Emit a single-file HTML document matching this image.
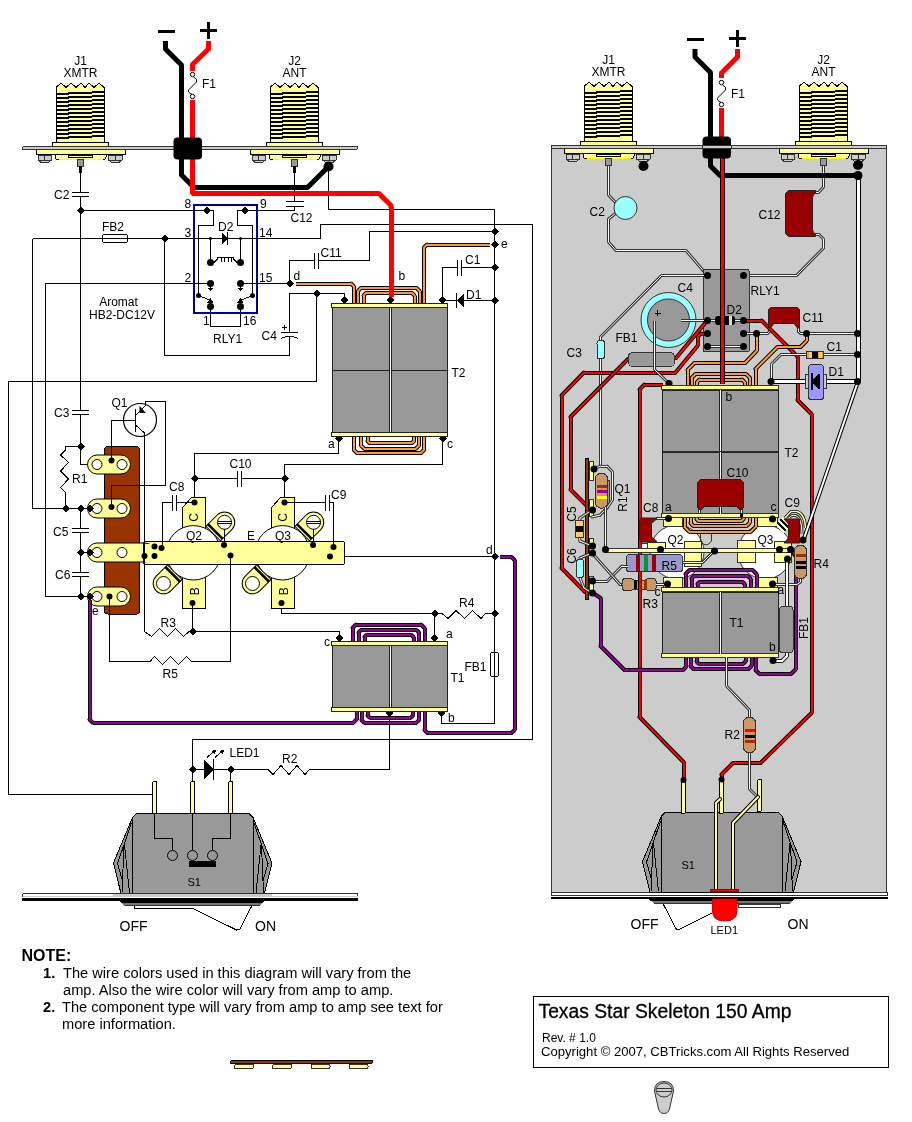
<!DOCTYPE html>
<html><head><meta charset="utf-8"><title>Texas Star Skeleton 150 Amp</title>
<style>
html,body{margin:0;padding:0;background:#fff}
svg{display:block;will-change:transform}
text{font-family:"Liberation Sans",sans-serif;fill:#000}
.w{fill:none;stroke:#000;stroke-width:1}
.g{fill:none;stroke:#333;stroke-width:1}
.k{fill:#000;stroke:none}
.t{fill:none;stroke:#000;stroke-width:2}
.yl{fill:none;stroke:#ffff00;stroke-width:1}
.bw{fill:none;stroke:#333;stroke-width:3}
.bi{fill:none;stroke:#fff;stroke-width:1}
circle,ellipse,.aa,.aa *{shape-rendering:geometricPrecision}
</style></head><body>
<svg width="912" height="1122" viewBox="0 0 912 1122" shape-rendering="crispEdges">
<rect width="912" height="1122" fill="#fff"/>
<g id="left">
<polyline class="w" points="80.5,172 80.5,192"/>
<line class="w" x1="72" y1="192.5" x2="89" y2="192.5"/>
<line class="w" x1="72" y1="196.5" x2="89" y2="196.5"/>
<polyline class="w" points="80.5,197 80.5,410"/>
<line class="w" x1="72" y1="410.5" x2="89" y2="410.5"/>
<line class="w" x1="72" y1="414.5" x2="89" y2="414.5"/>
<polyline class="w" points="80.5,415 80.5,464.5 88,464.5"/>
<polyline class="w" points="80.5,210.5 206,210.5"/>
<polyline class="w" points="32.5,238.5 320.5,238.5 320.5,224.5 532.5,224.5 532.5,739.5 192.5,739.5 192.5,782"/>
<polyline class="w" points="32.5,238.5 32.5,508.5 90,508.5"/>
<polyline class="w" points="164.5,238.5 164.5,355.5 289.5,355.5 289.5,337"/>
<polyline class="w" points="289.5,332 289.5,293.5 344.5,293.5 344.5,300"/>
<polyline class="w" points="316.5,293.5 316.5,381.5 8.5,381.5 8.5,794.5 153,794.5"/>
<polyline class="w" points="210.5,283.5 45.5,283.5 45.5,596.5 90,596.5"/>
<polyline class="w" points="80.5,508.5 80.5,528"/>
<line class="w" x1="72" y1="528.5" x2="89" y2="528.5"/>
<line class="w" x1="72" y1="532.5" x2="89" y2="532.5"/>
<polyline class="w" points="80.5,533 80.5,572"/>
<line class="w" x1="72" y1="572.5" x2="89" y2="572.5"/>
<line class="w" x1="72" y1="576.5" x2="89" y2="576.5"/>
<polyline class="w" points="80.5,577 80.5,596.5"/>
<polyline class="w" points="80.5,552.5 90,552.5"/>
<polyline class="w" points="240.5,283.5 289.5,283.5 289.5,260.5 314,260.5"/>
<line class="w" x1="314.5" y1="252.5" x2="314.5" y2="268.5"/>
<line class="w" x1="318.5" y1="252.5" x2="318.5" y2="268.5"/>
<polyline class="w" points="319,260.5 369.5,260.5 369.5,231.5 494.5,231.5"/>
<polyline class="w" points="328.5,167 328.5,209.5 494.5,209.5 494.5,723.5 441.5,723.5 441.5,712"/>
<polyline class="w" points="442.5,300 442.5,267.5 457,267.5"/>
<line class="w" x1="457.5" y1="259.5" x2="457.5" y2="275.5"/>
<line class="w" x1="461.5" y1="259.5" x2="461.5" y2="275.5"/>
<polyline class="w" points="462,267.5 494.5,267.5"/>
<polyline class="w" points="442.5,300.5 494.5,300.5"/>
<polygon class="k" points="456.5,300.5 463.5,293.5 463.5,307.5"/>
<line class="w" x1="456.5" y1="293" x2="456.5" y2="308"/>
<polyline class="w" points="294.5,172 294.5,201"/>
<line class="w" x1="285.5" y1="201.5" x2="303.5" y2="201.5"/>
<line class="w" x1="285.5" y1="206.5" x2="303.5" y2="206.5"/>
<polyline class="w" points="294.5,207 294.5,210.5 244.5,210.5"/>
<polyline class="w" points="210.5,306 210.5,326.5 240.5,326.5 240.5,306"/>
<polyline class="w" points="338.5,437 338.5,453.5 194.5,453.5 194.5,502.5"/>
<polyline class="w" points="194.5,478.5 237,478.5"/>
<line class="w" x1="237.5" y1="470.5" x2="237.5" y2="486.5"/>
<line class="w" x1="241.5" y1="470.5" x2="241.5" y2="486.5"/>
<polyline class="w" points="242,478.5 284.5,478.5"/>
<polyline class="w" points="442.5,437 442.5,464.5 284.5,464.5 284.5,502.5"/>
<polyline class="w" points="162.5,548 162.5,502.5 172,502.5"/>
<line class="w" x1="172.5" y1="494.5" x2="172.5" y2="510.5"/>
<line class="w" x1="176.5" y1="494.5" x2="176.5" y2="510.5"/>
<polyline class="w" points="80.5,446.5 65.5,446.5 65.5,450 60.5,455 68.5,462.5 60.5,471 68.5,479 60.5,487.5 65.5,492.5 65.5,508.5"/>
<polyline class="w" points="144.5,631.5 151.5,636.5 159.5,628.5 167.5,636.5 175.5,628.5 183.5,636.5 189,631.5 339.5,631.5 339.5,638"/>
<polyline class="w" points="281.5,603 281.5,613.5 442,613.5 448,618.5 456,610.5 464.5,618.5 472.5,610.5 481,618.5 485.5,613.5 494.5,613.5"/>
<polyline class="w" points="434.5,613.5 434.5,638"/>
<polyline class="w" points="150,661.5 154.5,656.5 162.5,664.5 170.5,656.5 178.5,664.5 186.5,656.5 191.5,661.5 230.5,661.5 230.5,555"/>
<polyline class="w" points="389.5,712 389.5,769.5 309.5,769.5 305,774.5 297,765.5 289,774.5 281,765.5 273,774.5 268,769.5 192.5,769.5"/>
<polyline class="w" points="230.5,769.5 230.5,782"/>
<polygon class="k" points="203.5,759 213.5,769.5 203.5,780"/>
<line class="w" x1="213.5" y1="759" x2="213.5" y2="780"/>
<polyline class="w" points="207,757.5 215,750.5"/>
<polygon class="k" points="216,749.5 211.5,751 215,754"/>
<polyline class="w" points="215,757.5 223,750.5"/>
<polygon class="k" points="224,749.5 219.5,751 223,754"/>
<polyline class="w" points="330,556.5 494.5,556.5"/>
<rect x="22.5" y="146.5" width="335" height="3" fill="#CCCCCC" stroke="#333" stroke-width="1" rx="1.5" />
<polygon fill="#FFFF99" stroke="#000" points="56,87.5 61,83 66,87.5 71,83 76,87.5 81,83 85,87.5 89,83 94,87.5 99,83 104.5,88 104.5,142 56,142"/>
<rect x="56.5" y="93" width="12" height="2" fill="#000" stroke="none" stroke-width="1" />
<rect x="68" y="92" width="24" height="2" fill="#000" stroke="none" stroke-width="1" />
<rect x="92" y="91" width="12" height="2" fill="#000" stroke="none" stroke-width="1" />
<rect x="56.5" y="97" width="12" height="2" fill="#000" stroke="none" stroke-width="1" />
<rect x="68" y="96" width="24" height="2" fill="#000" stroke="none" stroke-width="1" />
<rect x="92" y="95" width="12" height="2" fill="#000" stroke="none" stroke-width="1" />
<rect x="56.5" y="101" width="12" height="2" fill="#000" stroke="none" stroke-width="1" />
<rect x="68" y="100" width="24" height="2" fill="#000" stroke="none" stroke-width="1" />
<rect x="92" y="99" width="12" height="2" fill="#000" stroke="none" stroke-width="1" />
<rect x="56.5" y="105" width="12" height="2" fill="#000" stroke="none" stroke-width="1" />
<rect x="68" y="104" width="24" height="2" fill="#000" stroke="none" stroke-width="1" />
<rect x="92" y="103" width="12" height="2" fill="#000" stroke="none" stroke-width="1" />
<rect x="56.5" y="109" width="12" height="2" fill="#000" stroke="none" stroke-width="1" />
<rect x="68" y="108" width="24" height="2" fill="#000" stroke="none" stroke-width="1" />
<rect x="92" y="107" width="12" height="2" fill="#000" stroke="none" stroke-width="1" />
<rect x="56.5" y="113" width="12" height="2" fill="#000" stroke="none" stroke-width="1" />
<rect x="68" y="112" width="24" height="2" fill="#000" stroke="none" stroke-width="1" />
<rect x="92" y="111" width="12" height="2" fill="#000" stroke="none" stroke-width="1" />
<rect x="56.5" y="117" width="12" height="2" fill="#000" stroke="none" stroke-width="1" />
<rect x="68" y="116" width="24" height="2" fill="#000" stroke="none" stroke-width="1" />
<rect x="92" y="115" width="12" height="2" fill="#000" stroke="none" stroke-width="1" />
<rect x="56.5" y="121" width="12" height="2" fill="#000" stroke="none" stroke-width="1" />
<rect x="68" y="120" width="24" height="2" fill="#000" stroke="none" stroke-width="1" />
<rect x="92" y="119" width="12" height="2" fill="#000" stroke="none" stroke-width="1" />
<rect x="56.5" y="125" width="12" height="2" fill="#000" stroke="none" stroke-width="1" />
<rect x="68" y="124" width="24" height="2" fill="#000" stroke="none" stroke-width="1" />
<rect x="92" y="123" width="12" height="2" fill="#000" stroke="none" stroke-width="1" />
<rect x="56.5" y="129" width="12" height="2" fill="#000" stroke="none" stroke-width="1" />
<rect x="68" y="128" width="24" height="2" fill="#000" stroke="none" stroke-width="1" />
<rect x="92" y="127" width="12" height="2" fill="#000" stroke="none" stroke-width="1" />
<rect x="56.5" y="133" width="12" height="2" fill="#000" stroke="none" stroke-width="1" />
<rect x="68" y="132" width="24" height="2" fill="#000" stroke="none" stroke-width="1" />
<rect x="92" y="131" width="12" height="2" fill="#000" stroke="none" stroke-width="1" />
<rect x="56.5" y="137" width="12" height="2" fill="#000" stroke="none" stroke-width="1" />
<rect x="68" y="136" width="24" height="2" fill="#000" stroke="none" stroke-width="1" />
<rect x="92" y="135" width="12" height="2" fill="#000" stroke="none" stroke-width="1" />
<rect x="52" y="142.5" width="56" height="4" fill="#FFFF99" stroke="#000" stroke-width="1" />
<rect x="36" y="149.5" width="89" height="5" fill="#FFFF99" stroke="#000" stroke-width="1" />
<path d="M55 154.5V157Q55 159.5 58.5 159.5H102.5Q106 159.5 106 157V154.5Z" fill="#FFFF99" stroke="#000"/>
<line class="yl" x1="58.5" y1="159.5" x2="102.5" y2="159.5"/>
<rect x="68.5" y="155.5" width="24" height="2" fill="#FFFF99" stroke="#000" stroke-width="1" rx="1" />
<path d="M38 155.5H51.5V160L48.5 162.5H41L38 160Z" fill="#ccc" stroke="#333"/>
<line class="g" x1="44.75" y1="155.5" x2="44.75" y2="160"/>
<line class="g" x1="38" y1="160" x2="51.5" y2="160"/>
<path d="M108.5 155.5H122V160L119 162.5H111.5L108.5 160Z" fill="#ccc" stroke="#333"/>
<line class="g" x1="115.25" y1="155.5" x2="115.25" y2="160"/>
<line class="g" x1="108.5" y1="160" x2="122" y2="160"/>
<rect x="77.5" y="159" width="6" height="7" fill="#999999" stroke="#333" stroke-width="1" />
<rect x="79" y="166" width="3" height="7" fill="#000" stroke="none" stroke-width="1" />
<polygon fill="#FFFF99" stroke="#000" points="270,87.5 275,83 280,87.5 285,83 290,87.5 295,83 299,87.5 303,83 308,87.5 313,83 318.5,88 318.5,142 270,142"/>
<rect x="270.5" y="93" width="12" height="2" fill="#000" stroke="none" stroke-width="1" />
<rect x="282" y="92" width="24" height="2" fill="#000" stroke="none" stroke-width="1" />
<rect x="306" y="91" width="12" height="2" fill="#000" stroke="none" stroke-width="1" />
<rect x="270.5" y="97" width="12" height="2" fill="#000" stroke="none" stroke-width="1" />
<rect x="282" y="96" width="24" height="2" fill="#000" stroke="none" stroke-width="1" />
<rect x="306" y="95" width="12" height="2" fill="#000" stroke="none" stroke-width="1" />
<rect x="270.5" y="101" width="12" height="2" fill="#000" stroke="none" stroke-width="1" />
<rect x="282" y="100" width="24" height="2" fill="#000" stroke="none" stroke-width="1" />
<rect x="306" y="99" width="12" height="2" fill="#000" stroke="none" stroke-width="1" />
<rect x="270.5" y="105" width="12" height="2" fill="#000" stroke="none" stroke-width="1" />
<rect x="282" y="104" width="24" height="2" fill="#000" stroke="none" stroke-width="1" />
<rect x="306" y="103" width="12" height="2" fill="#000" stroke="none" stroke-width="1" />
<rect x="270.5" y="109" width="12" height="2" fill="#000" stroke="none" stroke-width="1" />
<rect x="282" y="108" width="24" height="2" fill="#000" stroke="none" stroke-width="1" />
<rect x="306" y="107" width="12" height="2" fill="#000" stroke="none" stroke-width="1" />
<rect x="270.5" y="113" width="12" height="2" fill="#000" stroke="none" stroke-width="1" />
<rect x="282" y="112" width="24" height="2" fill="#000" stroke="none" stroke-width="1" />
<rect x="306" y="111" width="12" height="2" fill="#000" stroke="none" stroke-width="1" />
<rect x="270.5" y="117" width="12" height="2" fill="#000" stroke="none" stroke-width="1" />
<rect x="282" y="116" width="24" height="2" fill="#000" stroke="none" stroke-width="1" />
<rect x="306" y="115" width="12" height="2" fill="#000" stroke="none" stroke-width="1" />
<rect x="270.5" y="121" width="12" height="2" fill="#000" stroke="none" stroke-width="1" />
<rect x="282" y="120" width="24" height="2" fill="#000" stroke="none" stroke-width="1" />
<rect x="306" y="119" width="12" height="2" fill="#000" stroke="none" stroke-width="1" />
<rect x="270.5" y="125" width="12" height="2" fill="#000" stroke="none" stroke-width="1" />
<rect x="282" y="124" width="24" height="2" fill="#000" stroke="none" stroke-width="1" />
<rect x="306" y="123" width="12" height="2" fill="#000" stroke="none" stroke-width="1" />
<rect x="270.5" y="129" width="12" height="2" fill="#000" stroke="none" stroke-width="1" />
<rect x="282" y="128" width="24" height="2" fill="#000" stroke="none" stroke-width="1" />
<rect x="306" y="127" width="12" height="2" fill="#000" stroke="none" stroke-width="1" />
<rect x="270.5" y="133" width="12" height="2" fill="#000" stroke="none" stroke-width="1" />
<rect x="282" y="132" width="24" height="2" fill="#000" stroke="none" stroke-width="1" />
<rect x="306" y="131" width="12" height="2" fill="#000" stroke="none" stroke-width="1" />
<rect x="270.5" y="137" width="12" height="2" fill="#000" stroke="none" stroke-width="1" />
<rect x="282" y="136" width="24" height="2" fill="#000" stroke="none" stroke-width="1" />
<rect x="306" y="135" width="12" height="2" fill="#000" stroke="none" stroke-width="1" />
<rect x="266" y="142.5" width="56" height="4" fill="#FFFF99" stroke="#000" stroke-width="1" />
<rect x="250" y="149.5" width="89" height="5" fill="#FFFF99" stroke="#000" stroke-width="1" />
<path d="M269 154.5V157Q269 159.5 272.5 159.5H316.5Q320 159.5 320 157V154.5Z" fill="#FFFF99" stroke="#000"/>
<line class="yl" x1="272.5" y1="159.5" x2="316.5" y2="159.5"/>
<rect x="282.5" y="155.5" width="24" height="2" fill="#FFFF99" stroke="#000" stroke-width="1" rx="1" />
<path d="M252 155.5H265.5V160L262.5 162.5H255L252 160Z" fill="#ccc" stroke="#333"/>
<line class="g" x1="258.75" y1="155.5" x2="258.75" y2="160"/>
<line class="g" x1="252" y1="160" x2="265.5" y2="160"/>
<path d="M322.5 155.5H336V160L333 162.5H325.5L322.5 160Z" fill="#ccc" stroke="#333"/>
<line class="g" x1="329.25" y1="155.5" x2="329.25" y2="160"/>
<line class="g" x1="322.5" y1="160" x2="336" y2="160"/>
<rect x="291.5" y="159" width="6" height="7" fill="#999999" stroke="#333" stroke-width="1" />
<rect x="293" y="166" width="3" height="7" fill="#000" stroke="none" stroke-width="1" />
<rect x="22.5" y="146.5" width="335" height="3" fill="#CCCCCC" stroke="#333" stroke-width="1" rx="1.5" />
<rect x="102.5" y="234.5" width="25" height="8" fill="none" stroke="#000" stroke-width="1" rx="2" />
<rect x="490.5" y="652.5" width="8" height="24" fill="none" stroke="#000" stroke-width="1" rx="2" />
<rect x="194" y="205" width="63" height="108" fill="none" stroke="#000099" stroke-width="2"/>
<polyline class="w" points="206,210.5 213.5,210.5 213.5,225.5 198.5,225.5 198.5,295"/>
<polyline class="w" points="244.5,210.5 237.5,210.5 237.5,225.5 252.5,225.5 252.5,295"/>
<polyline class="w" points="210.5,238.5 210.5,262.5"/>
<polyline class="w" points="240.5,238.5 240.5,262.5"/>
<polygon class="k" points="221.5,232.5 227.5,238.5 221.5,244.5"/>
<line class="w" x1="227.5" y1="232" x2="227.5" y2="245"/>
<circle class="k" cx="210.5" cy="238.5" r="1.5"/>
<circle class="k" cx="240.5" cy="238.5" r="1.5"/>
<path class="w" d="M210.500 262.500H214L217.500 259V257.500H233.500V259L237 262.500H240.500M221 257.500V261.500M224.500 257.500V261.500M228 257.500V261.500M231.500 257.500V261.500"/>
<circle class="k" cx="210.5" cy="262.5" r="3.5"/>
<circle class="k" cx="240.5" cy="262.5" r="3.5"/>
<circle class="k" cx="210.5" cy="283.5" r="3.5"/>
<circle class="k" cx="240.5" cy="283.5" r="3.5"/>
<polyline class="w" points="210.5,286 210.5,290"/>
<polygon class="k" points="207.5,288 213.5,288 210.5,291.500"/>
<polyline class="w" points="240.5,286 240.5,290"/>
<polygon class="k" points="237.5,288 243.5,288 240.5,291.500"/>
<circle class="k" cx="198.5" cy="295.5" r="2.5"/>
<circle class="k" cx="252.5" cy="295.5" r="2.5"/>
<polyline class="w" points="198.5,295.5 212,301"/>
<polyline class="w" points="252.5,295.5 239,301"/>
<polygon class="k" points="210.500,298 213.500,302.500 207.500,302.500"/>
<polygon class="k" points="240.500,298 243.500,302.500 237.500,302.500"/>
<circle class="k" cx="210.5" cy="306.5" r="3.5"/>
<circle class="k" cx="240.5" cy="306.5" r="3.5"/>
<polygon class="k" points="202.5,210.5 206.5,206.5 210.5,210.5 206.5,214.5"/>
<polygon class="k" points="240.5,210.5 244.5,206.5 248.5,210.5 244.5,214.5"/>
<line class="w" x1="281" y1="332.5" x2="298" y2="332.5"/>
<path class="w" d="M281 338.5Q289.5 334.5 298 338.5"/>
<polyline class="w" points="282,327.5 287,327.5"/>
<polyline class="w" points="284.5,325 284.5,330"/>
<path d="M104.5 449.5Q104.5 446.5 107.5 446.5H136.5Q139.5 446.5 139.5 449.5V611Q139.5 614 136.5 614H107.5Q104.5 614 104.5 611Z" fill="#993300" stroke="#000"/>
<circle cx="140" cy="420" r="16.500" fill="#fff" stroke="#000" stroke-width="1.2"/>
<polyline class="w" points="124,420.5 135.5,420.5"/>
<line x1="135.500" y1="409" x2="135.500" y2="432" stroke="#000" stroke-width="1"/>
<polyline class="w" points="111.5,460 111.5,420.5 124,420.5"/>
<polyline class="w" points="135.5,415.5 145.5,405.5 145.5,401.5 165.5,401.5 165.5,485.5 111.5,485.5 111.5,507"/>
<polygon class="k aa" points="139.500,406 139.500,413 146,413"/>
<polyline class="w" points="135.5,425 144.5,433 144.5,631.5"/>
<polygon fill="#FFFF99" stroke="#000" points="182.5,535 182.5,507.5 191.5,497.5 205.5,497.5 205.5,535"/>
<polygon fill="#FFFF99" stroke="#000" points="182.5,570 182.5,608.5 205.5,608.5 205.5,570"/>
<g transform="translate(224.5 522.3) rotate(45)" class="aa">
<path d="M-10.3 16V0A10.3 10.3 0 0 1 10.3 0V16Z" fill="#FFFF99" stroke="#000"/>
<line x1="-10.5" y1="13" x2="10.5" y2="13" stroke="#000" stroke-width="2.6"/>
</g>
<circle cx="224.5" cy="522.3" r="7" fill="#fff" stroke="#000"/>
<g transform="translate(163.5 583.5) rotate(225)" class="aa">
<path d="M-10.3 16V0A10.3 10.3 0 0 1 10.3 0V16Z" fill="#FFFF99" stroke="#000"/>
<line x1="-10.5" y1="13" x2="10.5" y2="13" stroke="#000" stroke-width="2.6"/>
</g>
<circle cx="163.5" cy="583.5" r="7" fill="#fff" stroke="#000"/>
<circle cx="193.5" cy="552.8" r="27.2" fill="#fff" stroke="#000"/>
<line class="w" x1="217.5" y1="521.3" x2="231.5" y2="521.3"/>
<line class="w" x1="217.5" y1="523.3" x2="231.5" y2="523.3"/>
<polyline class="w" points="224.5,529.3 224.5,545"/>
<text transform="translate(198 517.3) rotate(-90)" font-size="12" text-anchor="middle">C</text>
<text transform="translate(198.5 591.2) rotate(-90)" font-size="12" text-anchor="middle">B</text>
<polygon fill="#FFFF99" stroke="#000" points="271.5,535 271.5,507.5 280.5,497.5 294.5,497.5 294.5,535"/>
<polygon fill="#FFFF99" stroke="#000" points="271.5,570 271.5,608.5 294.5,608.5 294.5,570"/>
<g transform="translate(313.5 522.3) rotate(45)" class="aa">
<path d="M-10.3 16V0A10.3 10.3 0 0 1 10.3 0V16Z" fill="#FFFF99" stroke="#000"/>
<line x1="-10.5" y1="13" x2="10.5" y2="13" stroke="#000" stroke-width="2.6"/>
</g>
<circle cx="313.5" cy="522.3" r="7" fill="#fff" stroke="#000"/>
<g transform="translate(252.5 583.5) rotate(225)" class="aa">
<path d="M-10.3 16V0A10.3 10.3 0 0 1 10.3 0V16Z" fill="#FFFF99" stroke="#000"/>
<line x1="-10.5" y1="13" x2="10.5" y2="13" stroke="#000" stroke-width="2.6"/>
</g>
<circle cx="252.5" cy="583.5" r="7" fill="#fff" stroke="#000"/>
<circle cx="282.5" cy="552.8" r="27.2" fill="#fff" stroke="#000"/>
<line class="w" x1="306.5" y1="521.3" x2="320.5" y2="521.3"/>
<line class="w" x1="306.5" y1="523.3" x2="320.5" y2="523.3"/>
<polyline class="w" points="313.5,529.3 313.5,545"/>
<text transform="translate(287 517.3) rotate(-90)" font-size="12" text-anchor="middle">C</text>
<text transform="translate(287.5 591.2) rotate(-90)" font-size="12" text-anchor="middle">B</text>
<rect x="143.5" y="541.5" width="201" height="23" fill="#FFFF99" stroke="#000" stroke-width="1" rx="2" />
<rect x="87.5" y="455" width="43" height="19" rx="9.5" fill="#FFFF99" stroke="#000" class="aa"/>
<circle cx="97" cy="464.5" r="5" fill="#fff" stroke="#000"/>
<circle cx="122" cy="464.5" r="5" fill="#fff" stroke="#000"/>
<rect x="87.5" y="499" width="43" height="19" rx="9.5" fill="#FFFF99" stroke="#000" class="aa"/>
<circle cx="97" cy="508.5" r="5" fill="#fff" stroke="#000"/>
<circle cx="122" cy="508.5" r="5" fill="#fff" stroke="#000"/>
<rect x="87.5" y="543" width="67" height="19" rx="9.5" fill="#FFFF99" stroke="#000" class="aa"/>
<circle cx="97" cy="552.5" r="5" fill="#fff" stroke="#000"/>
<circle cx="122" cy="552.5" r="5" fill="#fff" stroke="#000"/>
<rect x="87.5" y="587" width="43" height="19" rx="9.5" fill="#FFFF99" stroke="#000" class="aa"/>
<circle cx="97" cy="596.5" r="5" fill="#fff" stroke="#000"/>
<circle cx="122" cy="596.5" r="5" fill="#fff" stroke="#000"/>
<rect x="144.5" y="543.5" width="12" height="18" fill="#FFFF99" stroke="none" stroke-width="1" />
<line class="w" x1="143.5" y1="543" x2="143.5" y2="562"/>
<polyline class="w" points="109.5,596.5 109.5,661.5 150,661.5"/>
<polyline class="w" points="111.5,447 111.5,460"/>
<polyline class="w" points="111.5,486 111.5,507"/>
<polyline class="w" points="162.5,540 162.5,548"/>
<circle class="k" cx="111.5" cy="460.5" r="3"/>
<circle class="k" cx="111.5" cy="507" r="3"/>
<circle class="k" cx="109.5" cy="596.5" r="3"/>
<polyline class="w" points="144.5,540 144.5,631.5"/>
<polyline class="w" points="230.5,555 230.5,661.5"/>
<text x="186" y="540" font-size="12" text-anchor="start" >Q2</text>
<text x="275" y="540" font-size="12" text-anchor="start" >Q3</text>
<text x="247" y="540" font-size="12" text-anchor="start" >E</text>
<polyline class="w" points="177,502.5 194.5,502.5"/>
<polyline class="w" points="284.5,502.5 325,502.5"/>
<line class="w" x1="325.5" y1="494.5" x2="325.5" y2="510.5"/>
<line class="w" x1="329.5" y1="494.5" x2="329.5" y2="510.5"/>
<polyline class="w" points="330,502.5 333.5,502.5 333.5,547"/>
<circle class="k" cx="194.5" cy="502.5" r="3"/>
<circle class="k" cx="284.5" cy="502.5" r="3"/>
<circle class="k" cx="192.5" cy="603" r="3"/>
<circle class="k" cx="281.5" cy="603" r="3"/>
<circle class="k" cx="154.5" cy="546.5" r="3"/>
<circle class="k" cx="161.5" cy="548" r="3"/>
<circle class="k" cx="144.5" cy="556" r="3"/>
<circle class="k" cx="154.5" cy="556" r="3"/>
<circle class="k" cx="224" cy="545" r="3"/>
<circle class="k" cx="230.5" cy="555.5" r="3"/>
<circle class="k" cx="313" cy="545" r="3"/>
<circle class="k" cx="333.5" cy="547" r="3"/>
<circle class="k" cx="330" cy="556.5" r="3"/>
<polyline fill="none" stroke="#000" stroke-width="4" points="295.5,283.5 351,283.5"/>
<polyline fill="none" stroke="#000" stroke-width="4" points="353.5,286 353.5,303"/>
<line class="aa" stroke-linecap="round" stroke="#000" stroke-width="4" x1="351" y1="283.5" x2="353.5" y2="286"/>
<polyline fill="none" stroke="#FF9933" stroke-width="2" points="295.5,283.5 351,283.5"/>
<polyline fill="none" stroke="#FF9933" stroke-width="2" points="353.5,286 353.5,303"/>
<line class="aa" stroke-linecap="round" stroke="#FF9933" stroke-width="2" x1="351" y1="283.5" x2="353.5" y2="286"/>
<polyline fill="none" stroke="#000" stroke-width="4" points="358,303 358,291"/>
<polyline fill="none" stroke="#000" stroke-width="4" points="361,288 416.5,288"/>
<polyline fill="none" stroke="#000" stroke-width="4" points="419.5,291 419.5,303"/>
<line class="aa" stroke-linecap="round" stroke="#000" stroke-width="4" x1="358" y1="291" x2="361" y2="288"/>
<line class="aa" stroke-linecap="round" stroke="#000" stroke-width="4" x1="416.5" y1="288" x2="419.5" y2="291"/>
<polyline fill="none" stroke="#FF9933" stroke-width="2" points="358,303 358,291"/>
<polyline fill="none" stroke="#FF9933" stroke-width="2" points="361,288 416.5,288"/>
<polyline fill="none" stroke="#FF9933" stroke-width="2" points="419.5,291 419.5,303"/>
<line class="aa" stroke-linecap="round" stroke="#FF9933" stroke-width="2" x1="358" y1="291" x2="361" y2="288"/>
<line class="aa" stroke-linecap="round" stroke="#FF9933" stroke-width="2" x1="416.5" y1="288" x2="419.5" y2="291"/>
<polyline fill="none" stroke="#000" stroke-width="4" points="363.5,303 363.5,295.5"/>
<polyline fill="none" stroke="#000" stroke-width="4" points="366,293 412,293"/>
<polyline fill="none" stroke="#000" stroke-width="4" points="414.5,295.5 414.5,303"/>
<line class="aa" stroke-linecap="round" stroke="#000" stroke-width="4" x1="363.5" y1="295.5" x2="366" y2="293"/>
<line class="aa" stroke-linecap="round" stroke="#000" stroke-width="4" x1="412" y1="293" x2="414.5" y2="295.5"/>
<polyline fill="none" stroke="#FF9933" stroke-width="2" points="363.5,303 363.5,295.5"/>
<polyline fill="none" stroke="#FF9933" stroke-width="2" points="366,293 412,293"/>
<polyline fill="none" stroke="#FF9933" stroke-width="2" points="414.5,295.5 414.5,303"/>
<line class="aa" stroke-linecap="round" stroke="#FF9933" stroke-width="2" x1="363.5" y1="295.5" x2="366" y2="293"/>
<line class="aa" stroke-linecap="round" stroke="#FF9933" stroke-width="2" x1="412" y1="293" x2="414.5" y2="295.5"/>
<polyline fill="none" stroke="#000" stroke-width="4" points="490,244.5 427,244.5"/>
<polyline fill="none" stroke="#000" stroke-width="4" points="424,247.5 424,303"/>
<line class="aa" stroke-linecap="round" stroke="#000" stroke-width="4" x1="427" y1="244.5" x2="424" y2="247.5"/>
<polyline fill="none" stroke="#FF9933" stroke-width="2" points="490,244.5 427,244.5"/>
<polyline fill="none" stroke="#FF9933" stroke-width="2" points="424,247.5 424,303"/>
<line class="aa" stroke-linecap="round" stroke="#FF9933" stroke-width="2" x1="427" y1="244.5" x2="424" y2="247.5"/>
<polyline fill="none" stroke="#000" stroke-width="4" points="354,436 354,450"/>
<polyline fill="none" stroke="#000" stroke-width="4" points="357,453 421,453"/>
<polyline fill="none" stroke="#000" stroke-width="4" points="424,450 424,436"/>
<line class="aa" stroke-linecap="round" stroke="#000" stroke-width="4" x1="354" y1="450" x2="357" y2="453"/>
<line class="aa" stroke-linecap="round" stroke="#000" stroke-width="4" x1="421" y1="453" x2="424" y2="450"/>
<polyline fill="none" stroke="#FF9933" stroke-width="2" points="354,436 354,450"/>
<polyline fill="none" stroke="#FF9933" stroke-width="2" points="357,453 421,453"/>
<polyline fill="none" stroke="#FF9933" stroke-width="2" points="424,450 424,436"/>
<line class="aa" stroke-linecap="round" stroke="#FF9933" stroke-width="2" x1="354" y1="450" x2="357" y2="453"/>
<line class="aa" stroke-linecap="round" stroke="#FF9933" stroke-width="2" x1="421" y1="453" x2="424" y2="450"/>
<polyline fill="none" stroke="#000" stroke-width="4" points="361,436 361,445.5"/>
<polyline fill="none" stroke="#000" stroke-width="4" points="364,448.5 416,448.5"/>
<polyline fill="none" stroke="#000" stroke-width="4" points="419,445.5 419,436"/>
<line class="aa" stroke-linecap="round" stroke="#000" stroke-width="4" x1="361" y1="445.5" x2="364" y2="448.5"/>
<line class="aa" stroke-linecap="round" stroke="#000" stroke-width="4" x1="416" y1="448.5" x2="419" y2="445.5"/>
<polyline fill="none" stroke="#FF9933" stroke-width="2" points="361,436 361,445.5"/>
<polyline fill="none" stroke="#FF9933" stroke-width="2" points="364,448.5 416,448.5"/>
<polyline fill="none" stroke="#FF9933" stroke-width="2" points="419,445.5 419,436"/>
<line class="aa" stroke-linecap="round" stroke="#FF9933" stroke-width="2" x1="361" y1="445.5" x2="364" y2="448.5"/>
<line class="aa" stroke-linecap="round" stroke="#FF9933" stroke-width="2" x1="416" y1="448.5" x2="419" y2="445.5"/>
<polyline fill="none" stroke="#000" stroke-width="4" points="367.5,436 367.5,441"/>
<polyline fill="none" stroke="#000" stroke-width="4" points="369.5,443 412,443"/>
<polyline fill="none" stroke="#000" stroke-width="4" points="414,441 414,436"/>
<line class="aa" stroke-linecap="round" stroke="#000" stroke-width="4" x1="367.5" y1="441" x2="369.5" y2="443"/>
<line class="aa" stroke-linecap="round" stroke="#000" stroke-width="4" x1="412" y1="443" x2="414" y2="441"/>
<polyline fill="none" stroke="#FF9933" stroke-width="2" points="367.5,436 367.5,441"/>
<polyline fill="none" stroke="#FF9933" stroke-width="2" points="369.5,443 412,443"/>
<polyline fill="none" stroke="#FF9933" stroke-width="2" points="414,441 414,436"/>
<line class="aa" stroke-linecap="round" stroke="#FF9933" stroke-width="2" x1="367.5" y1="441" x2="369.5" y2="443"/>
<line class="aa" stroke-linecap="round" stroke="#FF9933" stroke-width="2" x1="412" y1="443" x2="414" y2="441"/>
<polyline fill="none" stroke="#000" stroke-width="4" points="89.5,600 89.5,719.5"/>
<polyline fill="none" stroke="#000" stroke-width="4" points="92.5,722.5 353.5,722.5"/>
<polyline fill="none" stroke="#000" stroke-width="4" points="356.5,719.5 356.5,711"/>
<line class="aa" stroke-linecap="round" stroke="#000" stroke-width="4" x1="89.5" y1="719.5" x2="92.5" y2="722.5"/>
<line class="aa" stroke-linecap="round" stroke="#000" stroke-width="4" x1="353.5" y1="722.5" x2="356.5" y2="719.5"/>
<polyline fill="none" stroke="#990099" stroke-width="2" points="89.5,600 89.5,719.5"/>
<polyline fill="none" stroke="#990099" stroke-width="2" points="92.5,722.5 353.5,722.5"/>
<polyline fill="none" stroke="#990099" stroke-width="2" points="356.5,719.5 356.5,711"/>
<line class="aa" stroke-linecap="round" stroke="#990099" stroke-width="2" x1="89.5" y1="719.5" x2="92.5" y2="722.5"/>
<line class="aa" stroke-linecap="round" stroke="#990099" stroke-width="2" x1="353.5" y1="722.5" x2="356.5" y2="719.5"/>
<polyline fill="none" stroke="#000" stroke-width="4" points="352.5,642 352.5,628"/>
<polyline fill="none" stroke="#000" stroke-width="4" points="356,624.5 421,624.5"/>
<polyline fill="none" stroke="#000" stroke-width="4" points="424.5,628 424.5,642"/>
<line class="aa" stroke-linecap="round" stroke="#000" stroke-width="4" x1="352.5" y1="628" x2="356" y2="624.5"/>
<line class="aa" stroke-linecap="round" stroke="#000" stroke-width="4" x1="421" y1="624.5" x2="424.5" y2="628"/>
<polyline fill="none" stroke="#990099" stroke-width="2" points="352.5,642 352.5,628"/>
<polyline fill="none" stroke="#990099" stroke-width="2" points="356,624.5 421,624.5"/>
<polyline fill="none" stroke="#990099" stroke-width="2" points="424.5,628 424.5,642"/>
<line class="aa" stroke-linecap="round" stroke="#990099" stroke-width="2" x1="352.5" y1="628" x2="356" y2="624.5"/>
<line class="aa" stroke-linecap="round" stroke="#990099" stroke-width="2" x1="421" y1="624.5" x2="424.5" y2="628"/>
<polyline fill="none" stroke="#000" stroke-width="4" points="358.5,642 358.5,632.5"/>
<polyline fill="none" stroke="#000" stroke-width="4" points="361,630 416.5,630"/>
<polyline fill="none" stroke="#000" stroke-width="4" points="419,632.5 419,642"/>
<line class="aa" stroke-linecap="round" stroke="#000" stroke-width="4" x1="358.5" y1="632.5" x2="361" y2="630"/>
<line class="aa" stroke-linecap="round" stroke="#000" stroke-width="4" x1="416.5" y1="630" x2="419" y2="632.5"/>
<polyline fill="none" stroke="#990099" stroke-width="2" points="358.5,642 358.5,632.5"/>
<polyline fill="none" stroke="#990099" stroke-width="2" points="361,630 416.5,630"/>
<polyline fill="none" stroke="#990099" stroke-width="2" points="419,632.5 419,642"/>
<line class="aa" stroke-linecap="round" stroke="#990099" stroke-width="2" x1="358.5" y1="632.5" x2="361" y2="630"/>
<line class="aa" stroke-linecap="round" stroke="#990099" stroke-width="2" x1="416.5" y1="630" x2="419" y2="632.5"/>
<polyline fill="none" stroke="#000" stroke-width="4" points="364.5,642 364.5,637"/>
<polyline fill="none" stroke="#000" stroke-width="4" points="366.5,635 411.5,635"/>
<polyline fill="none" stroke="#000" stroke-width="4" points="413.5,637 413.5,642"/>
<line class="aa" stroke-linecap="round" stroke="#000" stroke-width="4" x1="364.5" y1="637" x2="366.5" y2="635"/>
<line class="aa" stroke-linecap="round" stroke="#000" stroke-width="4" x1="411.5" y1="635" x2="413.5" y2="637"/>
<polyline fill="none" stroke="#990099" stroke-width="2" points="364.5,642 364.5,637"/>
<polyline fill="none" stroke="#990099" stroke-width="2" points="366.5,635 411.5,635"/>
<polyline fill="none" stroke="#990099" stroke-width="2" points="413.5,637 413.5,642"/>
<line class="aa" stroke-linecap="round" stroke="#990099" stroke-width="2" x1="364.5" y1="637" x2="366.5" y2="635"/>
<line class="aa" stroke-linecap="round" stroke="#990099" stroke-width="2" x1="411.5" y1="635" x2="413.5" y2="637"/>
<polyline fill="none" stroke="#000" stroke-width="4" points="361.5,711 361.5,720"/>
<polyline fill="none" stroke="#000" stroke-width="4" points="364,722.5 416.5,722.5"/>
<polyline fill="none" stroke="#000" stroke-width="4" points="419,720 419,711"/>
<line class="aa" stroke-linecap="round" stroke="#000" stroke-width="4" x1="361.5" y1="720" x2="364" y2="722.5"/>
<line class="aa" stroke-linecap="round" stroke="#000" stroke-width="4" x1="416.5" y1="722.5" x2="419" y2="720"/>
<polyline fill="none" stroke="#990099" stroke-width="2" points="361.5,711 361.5,720"/>
<polyline fill="none" stroke="#990099" stroke-width="2" points="364,722.5 416.5,722.5"/>
<polyline fill="none" stroke="#990099" stroke-width="2" points="419,720 419,711"/>
<line class="aa" stroke-linecap="round" stroke="#990099" stroke-width="2" x1="361.5" y1="720" x2="364" y2="722.5"/>
<line class="aa" stroke-linecap="round" stroke="#990099" stroke-width="2" x1="416.5" y1="722.5" x2="419" y2="720"/>
<polyline fill="none" stroke="#000" stroke-width="4" points="367.5,711 367.5,715.5"/>
<polyline fill="none" stroke="#000" stroke-width="4" points="369.5,717.5 411,717.5"/>
<polyline fill="none" stroke="#000" stroke-width="4" points="413,715.5 413,711"/>
<line class="aa" stroke-linecap="round" stroke="#000" stroke-width="4" x1="367.5" y1="715.5" x2="369.5" y2="717.5"/>
<line class="aa" stroke-linecap="round" stroke="#000" stroke-width="4" x1="411" y1="717.5" x2="413" y2="715.5"/>
<polyline fill="none" stroke="#990099" stroke-width="2" points="367.5,711 367.5,715.5"/>
<polyline fill="none" stroke="#990099" stroke-width="2" points="369.5,717.5 411,717.5"/>
<polyline fill="none" stroke="#990099" stroke-width="2" points="413,715.5 413,711"/>
<line class="aa" stroke-linecap="round" stroke="#990099" stroke-width="2" x1="367.5" y1="715.5" x2="369.5" y2="717.5"/>
<line class="aa" stroke-linecap="round" stroke="#990099" stroke-width="2" x1="411" y1="717.5" x2="413" y2="715.5"/>
<polyline fill="none" stroke="#000" stroke-width="4" points="424.5,711 424.5,730"/>
<polyline fill="none" stroke="#000" stroke-width="4" points="427.5,733 511.5,733"/>
<polyline fill="none" stroke="#000" stroke-width="4" points="514.5,730 514.5,560"/>
<polyline fill="none" stroke="#000" stroke-width="4" points="511.5,557 500,557"/>
<line class="aa" stroke-linecap="round" stroke="#000" stroke-width="4" x1="424.5" y1="730" x2="427.5" y2="733"/>
<line class="aa" stroke-linecap="round" stroke="#000" stroke-width="4" x1="511.5" y1="733" x2="514.5" y2="730"/>
<line class="aa" stroke-linecap="round" stroke="#000" stroke-width="4" x1="514.5" y1="560" x2="511.5" y2="557"/>
<polyline fill="none" stroke="#990099" stroke-width="2" points="424.5,711 424.5,730"/>
<polyline fill="none" stroke="#990099" stroke-width="2" points="427.5,733 511.5,733"/>
<polyline fill="none" stroke="#990099" stroke-width="2" points="514.5,730 514.5,560"/>
<polyline fill="none" stroke="#990099" stroke-width="2" points="511.5,557 500,557"/>
<line class="aa" stroke-linecap="round" stroke="#990099" stroke-width="2" x1="424.5" y1="730" x2="427.5" y2="733"/>
<line class="aa" stroke-linecap="round" stroke="#990099" stroke-width="2" x1="511.5" y1="733" x2="514.5" y2="730"/>
<line class="aa" stroke-linecap="round" stroke="#990099" stroke-width="2" x1="514.5" y1="560" x2="511.5" y2="557"/>
<polygon class="k" points="340.5,300 344.5,296 348.5,300 344.5,304"/>
<polygon class="k" points="386.5,300 390.5,296 394.5,300 390.5,304"/>
<polygon class="k" points="438.5,300 442.5,296 446.5,300 442.5,304"/>
<polygon class="k" points="334.5,438.5 338.5,434.5 342.5,438.5 338.5,442.5"/>
<polygon class="k" points="438.5,438.5 442.5,434.5 446.5,438.5 442.5,442.5"/>
<polygon class="k" points="335.5,638 339.5,634 343.5,638 339.5,642"/>
<polygon class="k" points="430.5,638 434.5,634 438.5,638 434.5,642"/>
<polygon class="k" points="385.5,713 389.5,709 393.5,713 389.5,717"/>
<polygon class="k" points="437.5,713 441.5,709 445.5,713 441.5,717"/>
<rect x="332" y="307.5" width="57.5" height="62.5" fill="#999999" stroke="#222" stroke-width="1" />
<rect x="391.5" y="307.5" width="55.5" height="62.5" fill="#999999" stroke="#222" stroke-width="1" />
<rect x="332" y="370" width="57.5" height="62.5" fill="#999999" stroke="#222" stroke-width="1" />
<rect x="391.5" y="370" width="55.5" height="62.5" fill="#999999" stroke="#222" stroke-width="1" />
<rect x="331.5" y="303.5" width="116" height="4" fill="#FFFF99" stroke="#222" stroke-width="1" />
<rect x="331.5" y="432.5" width="116" height="4" fill="#FFFF99" stroke="#222" stroke-width="1" />
<line class="bi" x1="390.5" y1="308" x2="390.5" y2="432"/>
<rect x="332" y="645.5" width="57.5" height="61.5" fill="#999999" stroke="#222" stroke-width="1" />
<rect x="391.5" y="645.5" width="55.5" height="61.5" fill="#999999" stroke="#222" stroke-width="1" />
<rect x="331.5" y="641.5" width="116" height="4" fill="#FFFF99" stroke="#222" stroke-width="1" />
<rect x="331.5" y="707" width="116" height="4" fill="#FFFF99" stroke="#222" stroke-width="1" />
<line class="bi" x1="390.5" y1="646" x2="390.5" y2="706.5"/>
<polyline fill="none" stroke="#000" stroke-width="5" class="aa" stroke-linejoin="round" points="165.5,41 165.5,49 181.5,65 181.5,68"/>
<polyline fill="none" stroke="#000" stroke-width="5" points="181.5,67 181.5,174"/>
<polyline fill="none" stroke="#000" stroke-width="5" class="aa" stroke-linejoin="round" points="181.5,172 181.5,175 194,187.5 197,187.5"/>
<polyline fill="none" stroke="#000" stroke-width="5" points="196,187.5 306,187.5"/>
<polyline fill="none" stroke="#000" stroke-width="5" class="aa" stroke-linejoin="round" points="304,187.5 307.5,187.5 328.5,166.5"/>
<polyline fill="none" stroke="#f00" stroke-width="5" class="aa" stroke-linejoin="round" points="208.5,41 208.5,49 192.5,64.5 192.5,67"/>
<polyline fill="none" stroke="#f00" stroke-width="5" points="192.5,66 192.5,70.5"/>
<polyline fill="none" stroke="#f00" stroke-width="5" stroke-linejoin="bevel" points="192.5,100 192.5,193.5 379,193.5"/>
<polyline fill="none" stroke="#f00" stroke-width="5" class="aa" stroke-linejoin="round" points="377,193.5 379,193.5 391,205.5 391,208"/>
<polyline fill="none" stroke="#f00" stroke-width="5" points="391,207 391,297"/>
<rect x="173.5" y="137.5" width="28.5" height="22" rx="4" fill="#000" class="aa"/>
<rect x="158" y="30" width="17" height="3" fill="#000" stroke="none" stroke-width="1" />
<rect x="200" y="29" width="17" height="3" fill="#000" stroke="none" stroke-width="1" />
<rect x="207" y="22" width="3" height="17" fill="#000" stroke="none" stroke-width="1" />
<circle cx="192.5" cy="74.5" r="2.2" fill="#fff" stroke="#000"/>
<circle cx="192.5" cy="96.5" r="2.2" fill="#fff" stroke="#000"/>
<path class="w aa" d="M193.500 77Q198 79 196.500 82L189 89.500Q187 92.500 192 94.300"/>
<circle class="k" cx="328.5" cy="166.5" r="5"/>
<polygon class="k" points="76.5,210.5 80.5,206.5 84.5,210.5 80.5,214.5"/>
<polygon class="k" points="160.5,238.5 164.5,234.5 168.5,238.5 164.5,242.5"/>
<polygon class="k" points="76.5,446.5 80.5,442.5 84.5,446.5 80.5,450.5"/>
<polygon class="k" points="61.5,508.5 65.5,504.5 69.5,508.5 65.5,512.5"/>
<polygon class="k" points="76.5,508.5 80.5,504.5 84.5,508.5 80.5,512.5"/>
<polygon class="k" points="86,508.5 90,504.5 94,508.5 90,512.5"/>
<polygon class="k" points="76.5,552.5 80.5,548.5 84.5,552.5 80.5,556.5"/>
<polygon class="k" points="86,552.5 90,548.5 94,552.5 90,556.5"/>
<polygon class="k" points="76.5,596.5 80.5,592.5 84.5,596.5 80.5,600.5"/>
<polygon class="k" points="86,596.5 90,592.5 94,596.5 90,600.5"/>
<polygon class="k" points="285.5,283.5 289.5,279.5 293.5,283.5 289.5,287.5"/>
<polygon class="k" points="312.5,293.5 316.5,289.5 320.5,293.5 316.5,297.5"/>
<polygon class="k" points="490.5,231.5 494.5,227.5 498.5,231.5 494.5,235.5"/>
<polygon class="k" points="490.5,244.5 494.5,240.5 498.5,244.5 494.5,248.5"/>
<polygon class="k" points="490.5,267.5 494.5,263.5 498.5,267.5 494.5,271.5"/>
<polygon class="k" points="490.5,300.5 494.5,296.5 498.5,300.5 494.5,304.5"/>
<polygon class="k" points="490.5,556.5 494.5,552.5 498.5,556.5 494.5,560.5"/>
<polygon class="k" points="490.5,613.5 494.5,609.5 498.5,613.5 494.5,617.5"/>
<polygon class="k" points="430.5,613.5 434.5,609.5 438.5,613.5 434.5,617.5"/>
<polygon class="k" points="190.5,478.5 194.5,474.5 198.5,478.5 194.5,482.5"/>
<polygon class="k" points="280.5,478.5 284.5,474.5 288.5,478.5 284.5,482.5"/>
<polygon class="k" points="188.5,631.5 192.5,627.5 196.5,631.5 192.5,635.5"/>
<polygon class="k" points="188.5,769.5 192.5,765.5 196.5,769.5 192.5,773.5"/>
<polygon class="k" points="226.5,769.5 230.5,765.5 234.5,769.5 230.5,773.5"/>
<polyline class="w" points="192.5,603 192.5,631.5"/>
<polygon fill="#999999" stroke="#000" points="136.5,813.5 132.5,817.5 113.5,863 121,893.5 264.5,893.5 272,863 253,817.5 249,813.5"/>
<polyline class="w" points="132.5,817.5 132.5,893.5"/>
<polyline class="w" points="131.5,823 117.5,863.5 122.5,881"/>
<polyline class="w" points="124,845 122,893"/>
<polyline class="w" points="124.5,845 129.5,893"/>
<polyline class="w" points="253,817.5 253,893.5"/>
<polyline class="w" points="254,823 268,863.5 263,881"/>
<polyline class="w" points="261.5,845 263.5,893"/>
<polyline class="w" points="261,845 256,893"/>
<rect x="152.5" y="781.5" width="4" height="32" fill="#FFFF99" stroke="#000" stroke-width="1" rx="1.5" />
<rect x="190.5" y="781.5" width="4" height="32" fill="#FFFF99" stroke="#000" stroke-width="1" rx="1.5" />
<rect x="228.5" y="781.5" width="4" height="32" fill="#FFFF99" stroke="#000" stroke-width="1" rx="1.5" />
<polyline class="w" points="154.5,813.5 154.5,838.5 172.5,838.5 172.5,850"/>
<polyline class="w" points="192.5,813.5 192.5,850"/>
<polyline class="w" points="230.5,813.5 230.5,838.5 212.5,838.5 212.5,850"/>
<circle cx="172.5" cy="855.5" r="5" fill="none" stroke="#000"/>
<circle cx="192.5" cy="855.5" r="5" fill="none" stroke="#000"/>
<circle cx="212.5" cy="855.5" r="5" fill="none" stroke="#000"/>
<rect x="189" y="861" width="26.5" height="5.5" fill="#000" stroke="none" stroke-width="1" />
<text x="187.5" y="886" font-size="11" text-anchor="start" >S1</text>
<rect x="22.5" y="893.5" width="335" height="3" fill="#fff" stroke="#333" stroke-width="1" rx="1.5" />
<rect x="22.5" y="895.5" width="335" height="1" fill="#CCCCCC" stroke="none" stroke-width="1" />
<rect x="22" y="898" width="336" height="3" fill="#000" stroke="none" stroke-width="1" />
<rect x="113" y="894" width="159" height="2" fill="#CCCCCC" stroke="none" stroke-width="1" />
<polygon class="k" points="119,901 265,901 262.500,903 121.500,903"/>
<polygon fill="#777" stroke="none" points="121.500,903 262.500,903 260,905.500 124.500,905.500"/>
<line class="g" x1="124.5" y1="905.5" x2="260" y2="905.5"/>
<polyline class="w" points="134.5,905.5 134.5,908.5 193,908.5 236.5,930 240,929 252,905.5"/>
<text x="80.5" y="65" font-size="12" text-anchor="middle" >J1</text>
<text x="80.5" y="77" font-size="12" text-anchor="middle" >XMTR</text>
<text x="294.5" y="65" font-size="12" text-anchor="middle" >J2</text>
<text x="294.5" y="77" font-size="12" text-anchor="middle" >ANT</text>
<text x="202" y="88" font-size="12" text-anchor="start" >F1</text>
<text x="54" y="199" font-size="12" text-anchor="start" >C2</text>
<text x="54" y="417" font-size="12" text-anchor="start" >C3</text>
<text x="53" y="536" font-size="12" text-anchor="start" >C5</text>
<text x="55" y="579" font-size="12" text-anchor="start" >C6</text>
<text x="102" y="231" font-size="12" text-anchor="start" >FB2</text>
<text x="184.5" y="208" font-size="12" text-anchor="start" >8</text>
<text x="184.5" y="237" font-size="12" text-anchor="start" >3</text>
<text x="184.5" y="282" font-size="12" text-anchor="start" >2</text>
<text x="203" y="325" font-size="12" text-anchor="start" >1</text>
<text x="260" y="208" font-size="12" text-anchor="start" >9</text>
<text x="259" y="237" font-size="12" text-anchor="start" >14</text>
<text x="259" y="282" font-size="12" text-anchor="start" >15</text>
<text x="243" y="325" font-size="12" text-anchor="start" >16</text>
<text x="218" y="230.5" font-size="12" text-anchor="start" >D2</text>
<text x="213" y="343" font-size="12" text-anchor="start" >RLY1</text>
<text x="290.5" y="222" font-size="12" text-anchor="start" >C12</text>
<text x="320.5" y="257" font-size="12" text-anchor="start" >C11</text>
<text x="465" y="264" font-size="12" text-anchor="start" >C1</text>
<text x="466" y="299" font-size="12" text-anchor="start" >D1</text>
<text x="293.5" y="280" font-size="12" text-anchor="start" >d</text>
<text x="398.5" y="280" font-size="12" text-anchor="start" >b</text>
<text x="501" y="248" font-size="12" text-anchor="start" >e</text>
<text x="118.5" y="306" font-size="12" text-anchor="middle" >Aromat</text>
<text x="122" y="319" font-size="12" text-anchor="middle" >HB2-DC12V</text>
<text x="261.5" y="340" font-size="12" text-anchor="start" >C4</text>
<text x="451.5" y="377" font-size="12" text-anchor="start" >T2</text>
<text x="328" y="448" font-size="12" text-anchor="start" >a</text>
<text x="447" y="448" font-size="12" text-anchor="start" >c</text>
<text x="111.5" y="407" font-size="12" text-anchor="start" >Q1</text>
<text x="72" y="483" font-size="12" text-anchor="start" >R1</text>
<text x="169" y="491" font-size="12" text-anchor="start" >C8</text>
<text x="229.5" y="468" font-size="12" text-anchor="start" >C10</text>
<text x="331" y="499" font-size="12" text-anchor="start" >C9</text>
<text x="92" y="615" font-size="12" text-anchor="start" >e</text>
<text x="160.5" y="627" font-size="12" text-anchor="start" >R3</text>
<text x="162.5" y="678" font-size="12" text-anchor="start" >R5</text>
<text x="459" y="607" font-size="12" text-anchor="start" >R4</text>
<text x="486" y="554" font-size="12" text-anchor="start" >d</text>
<text x="324" y="646" font-size="12" text-anchor="start" >c</text>
<text x="446" y="638" font-size="12" text-anchor="start" >a</text>
<text x="448" y="722" font-size="12" text-anchor="start" >b</text>
<text x="450.5" y="682" font-size="12" text-anchor="start" >T1</text>
<text x="464.5" y="671" font-size="12" text-anchor="start" >FB1</text>
<text x="229.5" y="757" font-size="12" text-anchor="start" >LED1</text>
<text x="282" y="763" font-size="12" text-anchor="start" >R2</text>
<text x="119.5" y="930.5" font-size="14" text-anchor="start" >OFF</text>
<text x="255" y="930.5" font-size="14" text-anchor="start" >ON</text>
</g>
<g id="right">
<rect x="551.5" y="147.5" width="335" height="746" fill="#CCCCCC" stroke="#333" stroke-width="1" />
<rect x="551.5" y="892.5" width="335.5" height="3" fill="#fff" stroke="#333" stroke-width="1" />
<rect x="551" y="896.5" width="336.5" height="2.5" fill="#000" stroke="none" stroke-width="1" />
<polyline fill="none" stroke="#333" stroke-width="3" points="608.5,165 608.5,195"/>
<line class="aa" stroke-linecap="round" stroke="#333" stroke-width="3" x1="608.5" y1="195" x2="616" y2="203"/>
<polyline fill="none" stroke="#fff" stroke-width="1" points="608.5,165 608.5,195"/>
<line class="aa" stroke-linecap="round" stroke="#fff" stroke-width="1" x1="608.5" y1="195" x2="616" y2="203"/>
<polyline fill="none" stroke="#333" stroke-width="3" points="608.5,219 608.5,242"/>
<polyline fill="none" stroke="#333" stroke-width="3" points="616,250.5 686,250.5"/>
<line class="aa" stroke-linecap="round" stroke="#333" stroke-width="3" x1="616" y1="213" x2="608.5" y2="219"/>
<line class="aa" stroke-linecap="round" stroke="#333" stroke-width="3" x1="608.5" y1="242" x2="616" y2="250.5"/>
<line class="aa" stroke-linecap="round" stroke="#333" stroke-width="3" x1="686" y1="250.5" x2="707" y2="275"/>
<polyline fill="none" stroke="#fff" stroke-width="1" points="608.5,219 608.5,242"/>
<polyline fill="none" stroke="#fff" stroke-width="1" points="616,250.5 686,250.5"/>
<line class="aa" stroke-linecap="round" stroke="#fff" stroke-width="1" x1="616" y1="213" x2="608.5" y2="219"/>
<line class="aa" stroke-linecap="round" stroke="#fff" stroke-width="1" x1="608.5" y1="242" x2="616" y2="250.5"/>
<line class="aa" stroke-linecap="round" stroke="#fff" stroke-width="1" x1="686" y1="250.5" x2="707" y2="275"/>
<circle cx="625.5" cy="208" r="11.5" fill="#99FFFF" stroke="#333" shape-rendering="auto"/>
<polyline fill="none" stroke="#333" stroke-width="3" points="823.5,165 823.5,187"/>
<polyline fill="none" stroke="#333" stroke-width="3" points="818.5,192.5 814,192.5"/>
<line class="aa" stroke-linecap="round" stroke="#333" stroke-width="3" x1="823.5" y1="187" x2="818.5" y2="192.5"/>
<polyline fill="none" stroke="#fff" stroke-width="1" points="823.5,165 823.5,187"/>
<polyline fill="none" stroke="#fff" stroke-width="1" points="818.5,192.5 814,192.5"/>
<line class="aa" stroke-linecap="round" stroke="#fff" stroke-width="1" x1="823.5" y1="187" x2="818.5" y2="192.5"/>
<polyline fill="none" stroke="#333" stroke-width="3" points="814,234.5 819,234.5"/>
<polyline fill="none" stroke="#333" stroke-width="3" points="823.5,239 823.5,248"/>
<polyline fill="none" stroke="#333" stroke-width="3" points="796.5,275.5 743,275.5"/>
<line class="aa" stroke-linecap="round" stroke="#333" stroke-width="3" x1="819" y1="234.5" x2="823.5" y2="239"/>
<line class="aa" stroke-linecap="round" stroke="#333" stroke-width="3" x1="823.5" y1="248" x2="796.5" y2="275.5"/>
<polyline fill="none" stroke="#fff" stroke-width="1" points="814,234.5 819,234.5"/>
<polyline fill="none" stroke="#fff" stroke-width="1" points="823.5,239 823.5,248"/>
<polyline fill="none" stroke="#fff" stroke-width="1" points="796.5,275.5 743,275.5"/>
<line class="aa" stroke-linecap="round" stroke="#fff" stroke-width="1" x1="819" y1="234.5" x2="823.5" y2="239"/>
<line class="aa" stroke-linecap="round" stroke="#fff" stroke-width="1" x1="823.5" y1="248" x2="796.5" y2="275.5"/>
<path d="M788.5 190.500H815.500V193Q812.500 194.500 812.500 198V229Q812.500 232.500 815.500 234V236.500H788.500L785.500 233.500V193.500Z" fill="#990000" stroke="#222" class="aa"/>
<rect x="703" y="269.5" width="46" height="82" fill="#999999" stroke="#333" stroke-width="1" rx="1" />
<polyline fill="none" stroke="#333" stroke-width="3" points="707,275.5 661.5,275.5"/>
<polyline fill="none" stroke="#333" stroke-width="3" points="600.5,337 600.5,341"/>
<line class="aa" stroke-linecap="round" stroke="#333" stroke-width="3" x1="661.5" y1="275.5" x2="600.5" y2="337"/>
<polyline fill="none" stroke="#fff" stroke-width="1" points="707,275.5 661.5,275.5"/>
<polyline fill="none" stroke="#fff" stroke-width="1" points="600.5,337 600.5,341"/>
<line class="aa" stroke-linecap="round" stroke="#fff" stroke-width="1" x1="661.5" y1="275.5" x2="600.5" y2="337"/>
<polyline fill="none" stroke="#333" stroke-width="3" points="600.5,358 600.5,466"/>
<polyline fill="none" stroke="#fff" stroke-width="1" points="600.5,358 600.5,466"/>
<rect x="597" y="340" width="7.500" height="19" rx="3.500" fill="#99FFFF" stroke="#333"/>
<circle cx="668.5" cy="320" r="27.5" fill="#99FFFF" stroke="#333" shape-rendering="auto"/>
<circle cx="668.5" cy="320" r="21" fill="#999999" stroke="#333" shape-rendering="auto"/>
<polyline class="w" points="654.5,313 660.5,313"/>
<polyline class="w" points="657.5,310 657.5,316"/>
<polyline fill="none" stroke="#333" stroke-width="3" points="681,320.5 707,320.5"/>
<polyline fill="none" stroke="#fff" stroke-width="1" points="681,320.5 707,320.5"/>
<polyline fill="none" stroke="#000" stroke-width="4" points="707,333.5 701,333.5"/>
<polyline fill="none" stroke="#000" stroke-width="4" points="697.5,337 697.5,346"/>
<polyline fill="none" stroke="#000" stroke-width="4" points="675.5,372.5 584,372.5"/>
<polyline fill="none" stroke="#000" stroke-width="4" points="561.5,395.5 561.5,568"/>
<line class="aa" stroke-linecap="round" stroke="#000" stroke-width="4" x1="701" y1="333.5" x2="697.5" y2="337"/>
<line class="aa" stroke-linecap="round" stroke="#000" stroke-width="4" x1="697.5" y1="346" x2="675.5" y2="372.5"/>
<line class="aa" stroke-linecap="round" stroke="#000" stroke-width="4" x1="584" y1="372.5" x2="561.5" y2="395.5"/>
<line class="aa" stroke-linecap="round" stroke="#000" stroke-width="4" x1="561.5" y1="568" x2="585" y2="592"/>
<polyline fill="none" stroke="#FF0000" stroke-width="2" points="707,333.5 701,333.5"/>
<polyline fill="none" stroke="#FF0000" stroke-width="2" points="697.5,337 697.5,346"/>
<polyline fill="none" stroke="#FF0000" stroke-width="2" points="675.5,372.5 584,372.5"/>
<polyline fill="none" stroke="#FF0000" stroke-width="2" points="561.5,395.5 561.5,568"/>
<line class="aa" stroke-linecap="round" stroke="#FF0000" stroke-width="2" x1="701" y1="333.5" x2="697.5" y2="337"/>
<line class="aa" stroke-linecap="round" stroke="#FF0000" stroke-width="2" x1="697.5" y1="346" x2="675.5" y2="372.5"/>
<line class="aa" stroke-linecap="round" stroke="#FF0000" stroke-width="2" x1="584" y1="372.5" x2="561.5" y2="395.5"/>
<line class="aa" stroke-linecap="round" stroke="#FF0000" stroke-width="2" x1="561.5" y1="568" x2="585" y2="592"/>
<line class="aa" stroke-linecap="round" stroke="#000" stroke-width="4" x1="706" y1="322" x2="676" y2="358"/>
<line class="aa" stroke-linecap="round" stroke="#FF0000" stroke-width="2" x1="706" y1="322" x2="676" y2="358"/>
<polyline fill="none" stroke="#000" stroke-width="4" points="570.5,417 570.5,489.5"/>
<line class="aa" stroke-linecap="round" stroke="#000" stroke-width="4" x1="628" y1="359" x2="570.5" y2="417"/>
<line class="aa" stroke-linecap="round" stroke="#000" stroke-width="4" x1="570.5" y1="489.5" x2="587" y2="506"/>
<polyline fill="none" stroke="#FF0000" stroke-width="2" points="570.5,417 570.5,489.5"/>
<line class="aa" stroke-linecap="round" stroke="#FF0000" stroke-width="2" x1="628" y1="359" x2="570.5" y2="417"/>
<line class="aa" stroke-linecap="round" stroke="#FF0000" stroke-width="2" x1="570.5" y1="489.5" x2="587" y2="506"/>
<polyline fill="none" stroke="#000" stroke-width="4" points="663,384.5 644.5,384.5"/>
<polyline fill="none" stroke="#000" stroke-width="4" points="639.5,389.5 639.5,717"/>
<polyline fill="none" stroke="#000" stroke-width="4" points="683.5,762 683.5,779"/>
<line class="aa" stroke-linecap="round" stroke="#000" stroke-width="4" x1="644.5" y1="384.5" x2="639.5" y2="389.5"/>
<line class="aa" stroke-linecap="round" stroke="#000" stroke-width="4" x1="639.5" y1="717" x2="683.5" y2="762"/>
<polyline fill="none" stroke="#FF0000" stroke-width="2" points="663,384.5 644.5,384.5"/>
<polyline fill="none" stroke="#FF0000" stroke-width="2" points="639.5,389.5 639.5,717"/>
<polyline fill="none" stroke="#FF0000" stroke-width="2" points="683.5,762 683.5,779"/>
<line class="aa" stroke-linecap="round" stroke="#FF0000" stroke-width="2" x1="644.5" y1="384.5" x2="639.5" y2="389.5"/>
<line class="aa" stroke-linecap="round" stroke="#FF0000" stroke-width="2" x1="639.5" y1="717" x2="683.5" y2="762"/>
<rect x="628.5" y="352.5" width="46" height="14" fill="#999999" stroke="#333" stroke-width="1" rx="4" />
<polyline fill="none" stroke="#333" stroke-width="3" points="654.5,321 654.5,369.5"/>
<line class="aa" stroke-linecap="round" stroke="#333" stroke-width="3" x1="654.5" y1="369.5" x2="668.5" y2="383"/>
<polyline fill="none" stroke="#fff" stroke-width="1" points="654.5,321 654.5,369.5"/>
<line class="aa" stroke-linecap="round" stroke="#fff" stroke-width="1" x1="654.5" y1="369.5" x2="668.5" y2="383"/>
<polyline fill="none" stroke="#333" stroke-width="3" points="743,333.5 767.5,333.5"/>
<polyline fill="none" stroke="#333" stroke-width="3" points="769.5,331.5 769.5,327"/>
<line class="aa" stroke-linecap="round" stroke="#333" stroke-width="3" x1="767.5" y1="333.5" x2="769.5" y2="331.5"/>
<polyline fill="none" stroke="#fff" stroke-width="1" points="743,333.5 767.5,333.5"/>
<polyline fill="none" stroke="#fff" stroke-width="1" points="769.5,331.5 769.5,327"/>
<line class="aa" stroke-linecap="round" stroke="#fff" stroke-width="1" x1="767.5" y1="333.5" x2="769.5" y2="331.5"/>
<polyline fill="none" stroke="#333" stroke-width="3" points="798.5,327 798.5,331.5"/>
<polyline fill="none" stroke="#333" stroke-width="3" points="800.5,333.5 857,333.5"/>
<line class="aa" stroke-linecap="round" stroke="#333" stroke-width="3" x1="798.5" y1="331.5" x2="800.5" y2="333.5"/>
<polyline fill="none" stroke="#fff" stroke-width="1" points="798.5,327 798.5,331.5"/>
<polyline fill="none" stroke="#fff" stroke-width="1" points="800.5,333.5 857,333.5"/>
<line class="aa" stroke-linecap="round" stroke="#fff" stroke-width="1" x1="798.5" y1="331.5" x2="800.5" y2="333.5"/>
<polyline fill="none" stroke="#000" stroke-width="4" points="743,320.5 761.5,320.5"/>
<polyline fill="none" stroke="#000" stroke-width="4" points="797.5,356.5 797.5,400"/>
<polyline fill="none" stroke="#000" stroke-width="4" points="811.5,414 811.5,713"/>
<polyline fill="none" stroke="#000" stroke-width="4" points="760.5,763 733,763"/>
<polyline fill="none" stroke="#000" stroke-width="4" points="721.5,774.5 721.5,779"/>
<line class="aa" stroke-linecap="round" stroke="#000" stroke-width="4" x1="761.5" y1="320.5" x2="797.5" y2="356.5"/>
<line class="aa" stroke-linecap="round" stroke="#000" stroke-width="4" x1="797.5" y1="400" x2="811.5" y2="414"/>
<line class="aa" stroke-linecap="round" stroke="#000" stroke-width="4" x1="811.5" y1="713" x2="760.5" y2="763"/>
<line class="aa" stroke-linecap="round" stroke="#000" stroke-width="4" x1="733" y1="763" x2="721.5" y2="774.5"/>
<polyline fill="none" stroke="#FF0000" stroke-width="2" points="743,320.5 761.5,320.5"/>
<polyline fill="none" stroke="#FF0000" stroke-width="2" points="797.5,356.5 797.5,400"/>
<polyline fill="none" stroke="#FF0000" stroke-width="2" points="811.5,414 811.5,713"/>
<polyline fill="none" stroke="#FF0000" stroke-width="2" points="760.5,763 733,763"/>
<polyline fill="none" stroke="#FF0000" stroke-width="2" points="721.5,774.5 721.5,779"/>
<line class="aa" stroke-linecap="round" stroke="#FF0000" stroke-width="2" x1="761.5" y1="320.5" x2="797.5" y2="356.5"/>
<line class="aa" stroke-linecap="round" stroke="#FF0000" stroke-width="2" x1="797.5" y1="400" x2="811.5" y2="414"/>
<line class="aa" stroke-linecap="round" stroke="#FF0000" stroke-width="2" x1="811.5" y1="713" x2="760.5" y2="763"/>
<line class="aa" stroke-linecap="round" stroke="#FF0000" stroke-width="2" x1="733" y1="763" x2="721.5" y2="774.5"/>
<polyline fill="none" stroke="#000" stroke-width="4" points="756.5,333.5 756.5,351"/>
<polyline fill="none" stroke="#000" stroke-width="4" points="745,363 694.5,363"/>
<polyline fill="none" stroke="#000" stroke-width="4" points="687.5,370 687.5,386"/>
<line class="aa" stroke-linecap="round" stroke="#000" stroke-width="4" x1="756.5" y1="351" x2="745" y2="363"/>
<line class="aa" stroke-linecap="round" stroke="#000" stroke-width="4" x1="694.5" y1="363" x2="687.5" y2="370"/>
<polyline fill="none" stroke="#FF9933" stroke-width="2" points="756.5,333.5 756.5,351"/>
<polyline fill="none" stroke="#FF9933" stroke-width="2" points="745,363 694.5,363"/>
<polyline fill="none" stroke="#FF9933" stroke-width="2" points="687.5,370 687.5,386"/>
<line class="aa" stroke-linecap="round" stroke="#FF9933" stroke-width="2" x1="756.5" y1="351" x2="745" y2="363"/>
<line class="aa" stroke-linecap="round" stroke="#FF9933" stroke-width="2" x1="694.5" y1="363" x2="687.5" y2="370"/>
<polyline fill="none" stroke="#000" stroke-width="4" points="806.5,333.5 806.5,341"/>
<polyline fill="none" stroke="#000" stroke-width="4" points="800.5,347 777.5,347"/>
<polyline fill="none" stroke="#000" stroke-width="4" points="755.5,369 755.5,386"/>
<line class="aa" stroke-linecap="round" stroke="#000" stroke-width="4" x1="806.5" y1="341" x2="800.5" y2="347"/>
<line class="aa" stroke-linecap="round" stroke="#000" stroke-width="4" x1="777.5" y1="347" x2="755.5" y2="369"/>
<polyline fill="none" stroke="#FF9933" stroke-width="2" points="806.5,333.5 806.5,341"/>
<polyline fill="none" stroke="#FF9933" stroke-width="2" points="800.5,347 777.5,347"/>
<polyline fill="none" stroke="#FF9933" stroke-width="2" points="755.5,369 755.5,386"/>
<line class="aa" stroke-linecap="round" stroke="#FF9933" stroke-width="2" x1="806.5" y1="341" x2="800.5" y2="347"/>
<line class="aa" stroke-linecap="round" stroke="#FF9933" stroke-width="2" x1="777.5" y1="347" x2="755.5" y2="369"/>
<polyline fill="none" stroke="#000" stroke-width="4" points="691.5,386 691.5,378"/>
<polyline fill="none" stroke="#000" stroke-width="4" points="695.5,374 746,374"/>
<polyline fill="none" stroke="#000" stroke-width="4" points="750,378 750,386"/>
<line class="aa" stroke-linecap="round" stroke="#000" stroke-width="4" x1="691.5" y1="378" x2="695.5" y2="374"/>
<line class="aa" stroke-linecap="round" stroke="#000" stroke-width="4" x1="746" y1="374" x2="750" y2="378"/>
<polyline fill="none" stroke="#FF9933" stroke-width="2" points="691.5,386 691.5,378"/>
<polyline fill="none" stroke="#FF9933" stroke-width="2" points="695.5,374 746,374"/>
<polyline fill="none" stroke="#FF9933" stroke-width="2" points="750,378 750,386"/>
<line class="aa" stroke-linecap="round" stroke="#FF9933" stroke-width="2" x1="691.5" y1="378" x2="695.5" y2="374"/>
<line class="aa" stroke-linecap="round" stroke="#FF9933" stroke-width="2" x1="746" y1="374" x2="750" y2="378"/>
<polyline fill="none" stroke="#000" stroke-width="4" points="697,386 697,382"/>
<polyline fill="none" stroke="#000" stroke-width="4" points="699.5,379.5 742,379.5"/>
<polyline fill="none" stroke="#000" stroke-width="4" points="744.5,382 744.5,386"/>
<line class="aa" stroke-linecap="round" stroke="#000" stroke-width="4" x1="697" y1="382" x2="699.5" y2="379.5"/>
<line class="aa" stroke-linecap="round" stroke="#000" stroke-width="4" x1="742" y1="379.5" x2="744.5" y2="382"/>
<polyline fill="none" stroke="#FF9933" stroke-width="2" points="697,386 697,382"/>
<polyline fill="none" stroke="#FF9933" stroke-width="2" points="699.5,379.5 742,379.5"/>
<polyline fill="none" stroke="#FF9933" stroke-width="2" points="744.5,382 744.5,386"/>
<line class="aa" stroke-linecap="round" stroke="#FF9933" stroke-width="2" x1="697" y1="382" x2="699.5" y2="379.5"/>
<line class="aa" stroke-linecap="round" stroke="#FF9933" stroke-width="2" x1="742" y1="379.5" x2="744.5" y2="382"/>
<polyline fill="none" stroke="#000" stroke-width="5" points="858.5,178 858.5,381"/>
<polyline fill="none" stroke="#fff" stroke-width="3" points="858.5,178 858.5,381"/>
<line class="aa" stroke-linecap="round" stroke="#000" stroke-width="4" x1="858" y1="381.5" x2="803.5" y2="540"/>
<line class="aa" stroke-linecap="round" stroke="#fff" stroke-width="2" x1="858" y1="381.5" x2="803.5" y2="540"/>
<polyline fill="none" stroke="#000" stroke-width="5" points="771,381.5 806,381.5"/>
<polyline fill="none" stroke="#fff" stroke-width="3" points="771,381.5 806,381.5"/>
<polyline fill="none" stroke="#000" stroke-width="5" points="824,381.5 857,381.5"/>
<polyline fill="none" stroke="#fff" stroke-width="3" points="824,381.5 857,381.5"/>
<polyline fill="none" stroke="#333" stroke-width="3" points="857,354.5 823,354.5"/>
<polyline fill="none" stroke="#fff" stroke-width="1" points="857,354.5 823,354.5"/>
<polyline fill="none" stroke="#333" stroke-width="3" points="806,354.5 781,354.5"/>
<polyline fill="none" stroke="#333" stroke-width="3" points="771.5,364 771.5,381"/>
<line class="aa" stroke-linecap="round" stroke="#333" stroke-width="3" x1="781" y1="354.5" x2="771.5" y2="364"/>
<polyline fill="none" stroke="#fff" stroke-width="1" points="806,354.5 781,354.5"/>
<polyline fill="none" stroke="#fff" stroke-width="1" points="771.5,364 771.5,381"/>
<line class="aa" stroke-linecap="round" stroke="#fff" stroke-width="1" x1="781" y1="354.5" x2="771.5" y2="364"/>
<polyline fill="none" stroke="#333" stroke-width="3" points="707,346.5 743,346.5"/>
<polyline fill="none" stroke="#fff" stroke-width="1" points="707,346.5 743,346.5"/>
<path d="M770.500 307.500H797.500L799.500 309.500V328H797.500L794 323.500H774L770.500 328H768.500V309.500Z" fill="#990000" stroke="#222" class="aa"/>
<rect x="806.5" y="351.5" width="17" height="7" fill="#FF9933" stroke="#333" stroke-width="1" rx="1" />
<rect x="808.5" y="352" width="3" height="6" fill="#FFCC66" stroke="none" stroke-width="1" />
<rect x="818.5" y="352" width="3" height="6" fill="#FFCC66" stroke="none" stroke-width="1" />
<rect x="812" y="352" width="6" height="6" fill="#000" stroke="none" stroke-width="1" />
<rect x="805.5" y="374.5" width="21" height="14" fill="#CCCCCC" stroke="#333" stroke-width="1" rx="1" />
<rect x="808.5" y="364.5" width="15" height="35" fill="#9999FF" stroke="#333" stroke-width="1" rx="3" />
<polygon class="k" points="811,381.500 819.500,373.500 819.500,389.500"/>
<rect x="810.5" y="373" width="2" height="17" fill="#000" stroke="none" stroke-width="1" />
<polyline fill="none" stroke="#333" stroke-width="3" points="707,320.5 743,320.5"/>
<polyline fill="none" stroke="#fff" stroke-width="1" points="707,320.5 743,320.5"/>
<rect x="715" y="316" width="20" height="9" rx="3" fill="#000" class="aa"/>
<rect x="728.5" y="316" width="3" height="9" fill="#ddd" stroke="none" stroke-width="1" />
<circle class="k" cx="707.5" cy="275.5" r="3.5"/>
<circle class="k" cx="743.5" cy="275.5" r="3.5"/>
<circle class="k" cx="707.5" cy="320.5" r="3.5"/>
<circle class="k" cx="743.5" cy="320.5" r="3.5"/>
<circle class="k" cx="707.5" cy="333.5" r="3.5"/>
<circle class="k" cx="743.5" cy="333.5" r="3.5"/>
<circle class="k" cx="707.5" cy="346.5" r="3.5"/>
<circle class="k" cx="743.5" cy="346.5" r="3.5"/>
<circle class="k" cx="756.5" cy="333.5" r="3.5"/>
<circle class="k" cx="806.5" cy="333.5" r="3.5"/>
<circle class="k" cx="857.5" cy="333.5" r="3.5"/>
<circle class="k" cx="857.5" cy="354.5" r="3.5"/>
<circle class="k" cx="857.5" cy="381.5" r="3.5"/>
<circle class="k" cx="771" cy="381.5" r="3.5"/>
<circle class="k" cx="669" cy="383.5" r="3.5"/>
<polyline fill="none" stroke="#000" stroke-width="5" class="aa" stroke-linejoin="round" points="695,49 695,57 710.5,72.5 710.5,76"/>
<polyline fill="none" stroke="#000" stroke-width="5" points="710.5,75 710.5,165"/>
<polyline fill="none" stroke="#000" stroke-width="5" class="aa" stroke-linejoin="round" points="710.5,163 710.5,166 720,175.5 723,175.5"/>
<polyline fill="none" stroke="#000" stroke-width="5" points="722,175.5 857,175.5"/>
<polyline fill="none" stroke="#f00" stroke-width="5" class="aa" stroke-linejoin="round" points="737.5,49 737.5,57 721.5,73 721.5,75"/>
<polyline fill="none" stroke="#f00" stroke-width="5" points="721.5,74 721.5,78"/>
<polyline fill="none" stroke="#f00" stroke-width="5" points="721.5,108 721.5,140"/>
<polyline fill="none" stroke="#000" stroke-width="5" points="722.5,150 722.5,384"/>
<polyline fill="none" stroke="#FF0000" stroke-width="3" points="722.5,150 722.5,384"/>
<rect x="551.5" y="145.5" width="335" height="3" fill="#CCCCCC" stroke="#333" stroke-width="1" />
<rect x="687" y="38" width="17" height="3" fill="#000" stroke="none" stroke-width="1" />
<rect x="729" y="37" width="17" height="3" fill="#000" stroke="none" stroke-width="1" />
<rect x="736" y="30" width="3" height="17" fill="#000" stroke="none" stroke-width="1" />
<circle cx="721.5" cy="82.5" r="2.2" fill="#fff" stroke="#000"/>
<circle cx="721.5" cy="104.5" r="2.2" fill="#fff" stroke="#000"/>
<path class="w aa" d="M722.500 85Q727 87 725.500 90L718 97.500Q716 100.500 721 102.300"/>
<polygon fill="#FFFF99" stroke="#000" points="584,86.5 589,82 594,86.5 599,82 604,86.5 609,82 613,86.5 617,82 622,86.5 627,82 632.5,87 632.5,141 584,141"/>
<rect x="584.5" y="92" width="12" height="2" fill="#000" stroke="none" stroke-width="1" />
<rect x="596" y="91" width="24" height="2" fill="#000" stroke="none" stroke-width="1" />
<rect x="620" y="90" width="12" height="2" fill="#000" stroke="none" stroke-width="1" />
<rect x="584.5" y="96" width="12" height="2" fill="#000" stroke="none" stroke-width="1" />
<rect x="596" y="95" width="24" height="2" fill="#000" stroke="none" stroke-width="1" />
<rect x="620" y="94" width="12" height="2" fill="#000" stroke="none" stroke-width="1" />
<rect x="584.5" y="100" width="12" height="2" fill="#000" stroke="none" stroke-width="1" />
<rect x="596" y="99" width="24" height="2" fill="#000" stroke="none" stroke-width="1" />
<rect x="620" y="98" width="12" height="2" fill="#000" stroke="none" stroke-width="1" />
<rect x="584.5" y="104" width="12" height="2" fill="#000" stroke="none" stroke-width="1" />
<rect x="596" y="103" width="24" height="2" fill="#000" stroke="none" stroke-width="1" />
<rect x="620" y="102" width="12" height="2" fill="#000" stroke="none" stroke-width="1" />
<rect x="584.5" y="108" width="12" height="2" fill="#000" stroke="none" stroke-width="1" />
<rect x="596" y="107" width="24" height="2" fill="#000" stroke="none" stroke-width="1" />
<rect x="620" y="106" width="12" height="2" fill="#000" stroke="none" stroke-width="1" />
<rect x="584.5" y="112" width="12" height="2" fill="#000" stroke="none" stroke-width="1" />
<rect x="596" y="111" width="24" height="2" fill="#000" stroke="none" stroke-width="1" />
<rect x="620" y="110" width="12" height="2" fill="#000" stroke="none" stroke-width="1" />
<rect x="584.5" y="116" width="12" height="2" fill="#000" stroke="none" stroke-width="1" />
<rect x="596" y="115" width="24" height="2" fill="#000" stroke="none" stroke-width="1" />
<rect x="620" y="114" width="12" height="2" fill="#000" stroke="none" stroke-width="1" />
<rect x="584.5" y="120" width="12" height="2" fill="#000" stroke="none" stroke-width="1" />
<rect x="596" y="119" width="24" height="2" fill="#000" stroke="none" stroke-width="1" />
<rect x="620" y="118" width="12" height="2" fill="#000" stroke="none" stroke-width="1" />
<rect x="584.5" y="124" width="12" height="2" fill="#000" stroke="none" stroke-width="1" />
<rect x="596" y="123" width="24" height="2" fill="#000" stroke="none" stroke-width="1" />
<rect x="620" y="122" width="12" height="2" fill="#000" stroke="none" stroke-width="1" />
<rect x="584.5" y="128" width="12" height="2" fill="#000" stroke="none" stroke-width="1" />
<rect x="596" y="127" width="24" height="2" fill="#000" stroke="none" stroke-width="1" />
<rect x="620" y="126" width="12" height="2" fill="#000" stroke="none" stroke-width="1" />
<rect x="584.5" y="132" width="12" height="2" fill="#000" stroke="none" stroke-width="1" />
<rect x="596" y="131" width="24" height="2" fill="#000" stroke="none" stroke-width="1" />
<rect x="620" y="130" width="12" height="2" fill="#000" stroke="none" stroke-width="1" />
<rect x="584.5" y="136" width="12" height="2" fill="#000" stroke="none" stroke-width="1" />
<rect x="596" y="135" width="24" height="2" fill="#000" stroke="none" stroke-width="1" />
<rect x="620" y="134" width="12" height="2" fill="#000" stroke="none" stroke-width="1" />
<rect x="580" y="141.5" width="56" height="4" fill="#FFFF99" stroke="#000" stroke-width="1" />
<rect x="564" y="148.5" width="89" height="5" fill="#FFFF99" stroke="#000" stroke-width="1" />
<path d="M583 153.5V156Q583 158.5 586.5 158.5H630.5Q634 158.5 634 156V153.5Z" fill="#FFFF99" stroke="#000"/>
<line class="yl" x1="586.5" y1="158.5" x2="630.5" y2="158.5"/>
<rect x="596.5" y="154.5" width="24" height="2" fill="#FFFF99" stroke="#000" stroke-width="1" rx="1" />
<path d="M566 154.5H579.5V159L576.5 161.5H569L566 159Z" fill="#ccc" stroke="#333"/>
<line class="g" x1="572.75" y1="154.5" x2="572.75" y2="159"/>
<line class="g" x1="566" y1="159" x2="579.5" y2="159"/>
<path d="M636.5 154.5H650V159L647 161.5H639.5L636.5 159Z" fill="#ccc" stroke="#333"/>
<line class="g" x1="643.25" y1="154.5" x2="643.25" y2="159"/>
<line class="g" x1="636.5" y1="159" x2="650" y2="159"/>
<rect x="605.5" y="158" width="6" height="7" fill="#999999" stroke="#333" stroke-width="1" />
<polygon fill="#FFFF99" stroke="#000" points="799,86.5 804,82 809,86.5 814,82 819,86.5 824,82 828,86.5 832,82 837,86.5 842,82 847.5,87 847.5,141 799,141"/>
<rect x="799.5" y="92" width="12" height="2" fill="#000" stroke="none" stroke-width="1" />
<rect x="811" y="91" width="24" height="2" fill="#000" stroke="none" stroke-width="1" />
<rect x="835" y="90" width="12" height="2" fill="#000" stroke="none" stroke-width="1" />
<rect x="799.5" y="96" width="12" height="2" fill="#000" stroke="none" stroke-width="1" />
<rect x="811" y="95" width="24" height="2" fill="#000" stroke="none" stroke-width="1" />
<rect x="835" y="94" width="12" height="2" fill="#000" stroke="none" stroke-width="1" />
<rect x="799.5" y="100" width="12" height="2" fill="#000" stroke="none" stroke-width="1" />
<rect x="811" y="99" width="24" height="2" fill="#000" stroke="none" stroke-width="1" />
<rect x="835" y="98" width="12" height="2" fill="#000" stroke="none" stroke-width="1" />
<rect x="799.5" y="104" width="12" height="2" fill="#000" stroke="none" stroke-width="1" />
<rect x="811" y="103" width="24" height="2" fill="#000" stroke="none" stroke-width="1" />
<rect x="835" y="102" width="12" height="2" fill="#000" stroke="none" stroke-width="1" />
<rect x="799.5" y="108" width="12" height="2" fill="#000" stroke="none" stroke-width="1" />
<rect x="811" y="107" width="24" height="2" fill="#000" stroke="none" stroke-width="1" />
<rect x="835" y="106" width="12" height="2" fill="#000" stroke="none" stroke-width="1" />
<rect x="799.5" y="112" width="12" height="2" fill="#000" stroke="none" stroke-width="1" />
<rect x="811" y="111" width="24" height="2" fill="#000" stroke="none" stroke-width="1" />
<rect x="835" y="110" width="12" height="2" fill="#000" stroke="none" stroke-width="1" />
<rect x="799.5" y="116" width="12" height="2" fill="#000" stroke="none" stroke-width="1" />
<rect x="811" y="115" width="24" height="2" fill="#000" stroke="none" stroke-width="1" />
<rect x="835" y="114" width="12" height="2" fill="#000" stroke="none" stroke-width="1" />
<rect x="799.5" y="120" width="12" height="2" fill="#000" stroke="none" stroke-width="1" />
<rect x="811" y="119" width="24" height="2" fill="#000" stroke="none" stroke-width="1" />
<rect x="835" y="118" width="12" height="2" fill="#000" stroke="none" stroke-width="1" />
<rect x="799.5" y="124" width="12" height="2" fill="#000" stroke="none" stroke-width="1" />
<rect x="811" y="123" width="24" height="2" fill="#000" stroke="none" stroke-width="1" />
<rect x="835" y="122" width="12" height="2" fill="#000" stroke="none" stroke-width="1" />
<rect x="799.5" y="128" width="12" height="2" fill="#000" stroke="none" stroke-width="1" />
<rect x="811" y="127" width="24" height="2" fill="#000" stroke="none" stroke-width="1" />
<rect x="835" y="126" width="12" height="2" fill="#000" stroke="none" stroke-width="1" />
<rect x="799.5" y="132" width="12" height="2" fill="#000" stroke="none" stroke-width="1" />
<rect x="811" y="131" width="24" height="2" fill="#000" stroke="none" stroke-width="1" />
<rect x="835" y="130" width="12" height="2" fill="#000" stroke="none" stroke-width="1" />
<rect x="799.5" y="136" width="12" height="2" fill="#000" stroke="none" stroke-width="1" />
<rect x="811" y="135" width="24" height="2" fill="#000" stroke="none" stroke-width="1" />
<rect x="835" y="134" width="12" height="2" fill="#000" stroke="none" stroke-width="1" />
<rect x="795" y="141.5" width="56" height="4" fill="#FFFF99" stroke="#000" stroke-width="1" />
<rect x="779" y="148.5" width="89" height="5" fill="#FFFF99" stroke="#000" stroke-width="1" />
<path d="M798 153.5V156Q798 158.5 801.5 158.5H845.5Q849 158.5 849 156V153.5Z" fill="#FFFF99" stroke="#000"/>
<line class="yl" x1="801.5" y1="158.5" x2="845.5" y2="158.5"/>
<rect x="811.5" y="154.5" width="24" height="2" fill="#FFFF99" stroke="#000" stroke-width="1" rx="1" />
<path d="M781 154.5H794.5V159L791.5 161.5H784L781 159Z" fill="#ccc" stroke="#333"/>
<line class="g" x1="787.75" y1="154.5" x2="787.75" y2="159"/>
<line class="g" x1="781" y1="159" x2="794.5" y2="159"/>
<path d="M851.5 154.5H865V159L862 161.5H854.5L851.5 159Z" fill="#ccc" stroke="#333"/>
<line class="g" x1="858.25" y1="154.5" x2="858.25" y2="159"/>
<line class="g" x1="851.5" y1="159" x2="865" y2="159"/>
<rect x="820.5" y="158" width="6" height="7" fill="#999999" stroke="#333" stroke-width="1" />
<rect x="551.5" y="145.5" width="335" height="3" fill="#CCCCCC" stroke="#333" stroke-width="1" />
<rect x="702.500" y="136.500" width="28.500" height="22" rx="4" fill="#000" class="aa"/>
<rect x="702.5" y="145.5" width="28.5" height="3" fill="#CCCCCC" stroke="#333" stroke-width="1" />
<circle class="k" cx="643.5" cy="166" r="5"/>
<circle class="k" cx="858" cy="165" r="5"/>
<circle class="k" cx="858" cy="175.5" r="4.5"/>
<circle cx="677" cy="552" r="27" fill="#fff" stroke="#333"/>
<circle cx="765" cy="552" r="27" fill="#fff" stroke="#333"/>
<rect x="663.5" y="516.5" width="19" height="10" fill="#FFFF99" stroke="#333" stroke-width="1" />
<rect x="663.5" y="577.5" width="19" height="10" fill="#FFFF99" stroke="#333" stroke-width="1" />
<rect x="756.5" y="516.5" width="21" height="10" fill="#FFFF99" stroke="#333" stroke-width="1" />
<rect x="756.5" y="577.5" width="21" height="10" fill="#FFFF99" stroke="#333" stroke-width="1" />
<rect x="647.5" y="542.5" width="17.5" height="6.5" fill="#FFFF99" stroke="#333" stroke-width="1" />
<rect x="641.5" y="543.5" width="6" height="5.5" fill="#fff" stroke="#333" stroke-width="1" />
<rect x="684.5" y="541.5" width="17" height="25" fill="#FFFF99" stroke="#333" stroke-width="1" />
<rect x="737.5" y="540.5" width="18" height="22" fill="#FFFF99" stroke="#333" stroke-width="1" />
<rect x="774.5" y="541.5" width="17" height="21" fill="#FFFF99" stroke="#333" stroke-width="1" />
<path d="M700.500 533V541Q706 549 711.500 541V533" fill="none" stroke="#333" class="aa"/>
<g transform="translate(783 525) rotate(45)"><rect x="-6" y="-5" width="12" height="10" fill="#FFFF99" stroke="none"/><rect x="-6" y="-3" width="12" height="2" fill="#000"/><rect x="-6" y="1" width="12" height="2" fill="#000"/></g>
<rect x="605.5" y="548.5" width="187" height="4" fill="#FFFF99" stroke="#333" stroke-width="1" />
<polyline fill="none" stroke="#000" stroke-width="4" points="684.5,516 684.5,527"/>
<polyline fill="none" stroke="#000" stroke-width="4" points="689,531.5 751,531.5"/>
<polyline fill="none" stroke="#000" stroke-width="4" points="755.5,527 755.5,516"/>
<line class="aa" stroke-linecap="round" stroke="#000" stroke-width="4" x1="684.5" y1="527" x2="689" y2="531.5"/>
<line class="aa" stroke-linecap="round" stroke="#000" stroke-width="4" x1="751" y1="531.5" x2="755.5" y2="527"/>
<polyline fill="none" stroke="#FF9933" stroke-width="2" points="684.5,516 684.5,527"/>
<polyline fill="none" stroke="#FF9933" stroke-width="2" points="689,531.5 751,531.5"/>
<polyline fill="none" stroke="#FF9933" stroke-width="2" points="755.5,527 755.5,516"/>
<line class="aa" stroke-linecap="round" stroke="#FF9933" stroke-width="2" x1="684.5" y1="527" x2="689" y2="531.5"/>
<line class="aa" stroke-linecap="round" stroke="#FF9933" stroke-width="2" x1="751" y1="531.5" x2="755.5" y2="527"/>
<polyline fill="none" stroke="#000" stroke-width="4" points="690.5,516 690.5,523"/>
<polyline fill="none" stroke="#000" stroke-width="4" points="693.5,526 746.5,526"/>
<polyline fill="none" stroke="#000" stroke-width="4" points="749.5,523 749.5,516"/>
<line class="aa" stroke-linecap="round" stroke="#000" stroke-width="4" x1="690.5" y1="523" x2="693.5" y2="526"/>
<line class="aa" stroke-linecap="round" stroke="#000" stroke-width="4" x1="746.5" y1="526" x2="749.5" y2="523"/>
<polyline fill="none" stroke="#FF9933" stroke-width="2" points="690.5,516 690.5,523"/>
<polyline fill="none" stroke="#FF9933" stroke-width="2" points="693.5,526 746.5,526"/>
<polyline fill="none" stroke="#FF9933" stroke-width="2" points="749.5,523 749.5,516"/>
<line class="aa" stroke-linecap="round" stroke="#FF9933" stroke-width="2" x1="690.5" y1="523" x2="693.5" y2="526"/>
<line class="aa" stroke-linecap="round" stroke="#FF9933" stroke-width="2" x1="746.5" y1="526" x2="749.5" y2="523"/>
<polyline fill="none" stroke="#000" stroke-width="4" points="696.5,516 696.5,519"/>
<polyline fill="none" stroke="#000" stroke-width="4" points="698.5,521 741.5,521"/>
<polyline fill="none" stroke="#000" stroke-width="4" points="743.5,519 743.5,516"/>
<line class="aa" stroke-linecap="round" stroke="#000" stroke-width="4" x1="696.5" y1="519" x2="698.5" y2="521"/>
<line class="aa" stroke-linecap="round" stroke="#000" stroke-width="4" x1="741.5" y1="521" x2="743.5" y2="519"/>
<polyline fill="none" stroke="#FF9933" stroke-width="2" points="696.5,516 696.5,519"/>
<polyline fill="none" stroke="#FF9933" stroke-width="2" points="698.5,521 741.5,521"/>
<polyline fill="none" stroke="#FF9933" stroke-width="2" points="743.5,519 743.5,516"/>
<line class="aa" stroke-linecap="round" stroke="#FF9933" stroke-width="2" x1="696.5" y1="519" x2="698.5" y2="521"/>
<line class="aa" stroke-linecap="round" stroke="#FF9933" stroke-width="2" x1="741.5" y1="521" x2="743.5" y2="519"/>
<polyline fill="none" stroke="#000" stroke-width="4" points="685.5,588 685.5,574"/>
<polyline fill="none" stroke="#000" stroke-width="4" points="689.5,570 752.5,570"/>
<polyline fill="none" stroke="#000" stroke-width="4" points="756.5,574 756.5,588"/>
<line class="aa" stroke-linecap="round" stroke="#000" stroke-width="4" x1="685.5" y1="574" x2="689.5" y2="570"/>
<line class="aa" stroke-linecap="round" stroke="#000" stroke-width="4" x1="752.5" y1="570" x2="756.5" y2="574"/>
<polyline fill="none" stroke="#990099" stroke-width="2" points="685.5,588 685.5,574"/>
<polyline fill="none" stroke="#990099" stroke-width="2" points="689.5,570 752.5,570"/>
<polyline fill="none" stroke="#990099" stroke-width="2" points="756.5,574 756.5,588"/>
<line class="aa" stroke-linecap="round" stroke="#990099" stroke-width="2" x1="685.5" y1="574" x2="689.5" y2="570"/>
<line class="aa" stroke-linecap="round" stroke="#990099" stroke-width="2" x1="752.5" y1="570" x2="756.5" y2="574"/>
<polyline fill="none" stroke="#000" stroke-width="4" points="691.5,588 691.5,578.5"/>
<polyline fill="none" stroke="#000" stroke-width="4" points="694,576 748,576"/>
<polyline fill="none" stroke="#000" stroke-width="4" points="750.5,578.5 750.5,588"/>
<line class="aa" stroke-linecap="round" stroke="#000" stroke-width="4" x1="691.5" y1="578.5" x2="694" y2="576"/>
<line class="aa" stroke-linecap="round" stroke="#000" stroke-width="4" x1="748" y1="576" x2="750.5" y2="578.5"/>
<polyline fill="none" stroke="#990099" stroke-width="2" points="691.5,588 691.5,578.5"/>
<polyline fill="none" stroke="#990099" stroke-width="2" points="694,576 748,576"/>
<polyline fill="none" stroke="#990099" stroke-width="2" points="750.5,578.5 750.5,588"/>
<line class="aa" stroke-linecap="round" stroke="#990099" stroke-width="2" x1="691.5" y1="578.5" x2="694" y2="576"/>
<line class="aa" stroke-linecap="round" stroke="#990099" stroke-width="2" x1="748" y1="576" x2="750.5" y2="578.5"/>
<polyline fill="none" stroke="#000" stroke-width="4" points="697.5,588 697.5,584"/>
<polyline fill="none" stroke="#000" stroke-width="4" points="699.5,582 742.5,582"/>
<polyline fill="none" stroke="#000" stroke-width="4" points="744.5,584 744.5,588"/>
<line class="aa" stroke-linecap="round" stroke="#000" stroke-width="4" x1="697.5" y1="584" x2="699.5" y2="582"/>
<line class="aa" stroke-linecap="round" stroke="#000" stroke-width="4" x1="742.5" y1="582" x2="744.5" y2="584"/>
<polyline fill="none" stroke="#990099" stroke-width="2" points="697.5,588 697.5,584"/>
<polyline fill="none" stroke="#990099" stroke-width="2" points="699.5,582 742.5,582"/>
<polyline fill="none" stroke="#990099" stroke-width="2" points="744.5,584 744.5,588"/>
<line class="aa" stroke-linecap="round" stroke="#990099" stroke-width="2" x1="697.5" y1="584" x2="699.5" y2="582"/>
<line class="aa" stroke-linecap="round" stroke="#990099" stroke-width="2" x1="742.5" y1="582" x2="744.5" y2="584"/>
<polyline fill="none" stroke="#000" stroke-width="4" points="690.5,656 690.5,666"/>
<polyline fill="none" stroke="#000" stroke-width="4" points="693.5,669 748.5,669"/>
<polyline fill="none" stroke="#000" stroke-width="4" points="751.5,666 751.5,656"/>
<line class="aa" stroke-linecap="round" stroke="#000" stroke-width="4" x1="690.5" y1="666" x2="693.5" y2="669"/>
<line class="aa" stroke-linecap="round" stroke="#000" stroke-width="4" x1="748.5" y1="669" x2="751.5" y2="666"/>
<polyline fill="none" stroke="#990099" stroke-width="2" points="690.5,656 690.5,666"/>
<polyline fill="none" stroke="#990099" stroke-width="2" points="693.5,669 748.5,669"/>
<polyline fill="none" stroke="#990099" stroke-width="2" points="751.5,666 751.5,656"/>
<line class="aa" stroke-linecap="round" stroke="#990099" stroke-width="2" x1="690.5" y1="666" x2="693.5" y2="669"/>
<line class="aa" stroke-linecap="round" stroke="#990099" stroke-width="2" x1="748.5" y1="669" x2="751.5" y2="666"/>
<polyline fill="none" stroke="#000" stroke-width="4" points="696.5,656 696.5,661.5"/>
<polyline fill="none" stroke="#000" stroke-width="4" points="698.5,663.5 743.5,663.5"/>
<polyline fill="none" stroke="#000" stroke-width="4" points="745.5,661.5 745.5,656"/>
<line class="aa" stroke-linecap="round" stroke="#000" stroke-width="4" x1="696.5" y1="661.5" x2="698.5" y2="663.5"/>
<line class="aa" stroke-linecap="round" stroke="#000" stroke-width="4" x1="743.5" y1="663.5" x2="745.5" y2="661.5"/>
<polyline fill="none" stroke="#990099" stroke-width="2" points="696.5,656 696.5,661.5"/>
<polyline fill="none" stroke="#990099" stroke-width="2" points="698.5,663.5 743.5,663.5"/>
<polyline fill="none" stroke="#990099" stroke-width="2" points="745.5,661.5 745.5,656"/>
<line class="aa" stroke-linecap="round" stroke="#990099" stroke-width="2" x1="696.5" y1="661.5" x2="698.5" y2="663.5"/>
<line class="aa" stroke-linecap="round" stroke="#990099" stroke-width="2" x1="743.5" y1="663.5" x2="745.5" y2="661.5"/>
<polyline fill="none" stroke="#000" stroke-width="4" points="755.5,656 755.5,670"/>
<polyline fill="none" stroke="#000" stroke-width="4" points="759,673.5 791.5,673.5"/>
<polyline fill="none" stroke="#000" stroke-width="4" points="795.5,669.5 795.5,556"/>
<line class="aa" stroke-linecap="round" stroke="#000" stroke-width="4" x1="755.5" y1="670" x2="759" y2="673.5"/>
<line class="aa" stroke-linecap="round" stroke="#000" stroke-width="4" x1="791.5" y1="673.5" x2="795.5" y2="669.5"/>
<line class="aa" stroke-linecap="round" stroke="#000" stroke-width="4" x1="795.5" y1="556" x2="792" y2="551"/>
<polyline fill="none" stroke="#990099" stroke-width="2" points="755.5,656 755.5,670"/>
<polyline fill="none" stroke="#990099" stroke-width="2" points="759,673.5 791.5,673.5"/>
<polyline fill="none" stroke="#990099" stroke-width="2" points="795.5,669.5 795.5,556"/>
<line class="aa" stroke-linecap="round" stroke="#990099" stroke-width="2" x1="755.5" y1="670" x2="759" y2="673.5"/>
<line class="aa" stroke-linecap="round" stroke="#990099" stroke-width="2" x1="791.5" y1="673.5" x2="795.5" y2="669.5"/>
<line class="aa" stroke-linecap="round" stroke="#990099" stroke-width="2" x1="795.5" y1="556" x2="792" y2="551"/>
<polyline fill="none" stroke="#000" stroke-width="4" points="600.5,598 600.5,646"/>
<polyline fill="none" stroke="#000" stroke-width="4" points="624.5,670 683,670"/>
<polyline fill="none" stroke="#000" stroke-width="4" points="685.5,667.5 685.5,656"/>
<line class="aa" stroke-linecap="round" stroke="#000" stroke-width="4" x1="593" y1="593" x2="600.5" y2="598"/>
<line class="aa" stroke-linecap="round" stroke="#000" stroke-width="4" x1="600.5" y1="646" x2="624.5" y2="670"/>
<line class="aa" stroke-linecap="round" stroke="#000" stroke-width="4" x1="683" y1="670" x2="685.5" y2="667.5"/>
<polyline fill="none" stroke="#990099" stroke-width="2" points="600.5,598 600.5,646"/>
<polyline fill="none" stroke="#990099" stroke-width="2" points="624.5,670 683,670"/>
<polyline fill="none" stroke="#990099" stroke-width="2" points="685.5,667.5 685.5,656"/>
<line class="aa" stroke-linecap="round" stroke="#990099" stroke-width="2" x1="593" y1="593" x2="600.5" y2="598"/>
<line class="aa" stroke-linecap="round" stroke="#990099" stroke-width="2" x1="600.5" y1="646" x2="624.5" y2="670"/>
<line class="aa" stroke-linecap="round" stroke="#990099" stroke-width="2" x1="683" y1="670" x2="685.5" y2="667.5"/>
<rect x="662.5" y="390" width="57" height="61" fill="#999999" stroke="#222" stroke-width="1" />
<rect x="721.5" y="390" width="56.5" height="61" fill="#999999" stroke="#222" stroke-width="1" />
<rect x="662.5" y="452" width="57" height="61" fill="#999999" stroke="#222" stroke-width="1" />
<rect x="721.5" y="452" width="56.5" height="61" fill="#999999" stroke="#222" stroke-width="1" />
<rect x="661.5" y="385" width="117" height="4" fill="#FFFF99" stroke="#333" stroke-width="1" />
<rect x="661.5" y="513" width="117" height="4" fill="#FFFF99" stroke="#333" stroke-width="1" />
<line class="bi" x1="720.5" y1="389.5" x2="720.5" y2="513.5"/>
<rect x="662.5" y="592" width="57" height="61" fill="#999999" stroke="#222" stroke-width="1" />
<rect x="721.5" y="592" width="56.5" height="61" fill="#999999" stroke="#222" stroke-width="1" />
<rect x="661.5" y="587" width="117" height="4" fill="#FFFF99" stroke="#333" stroke-width="1" />
<rect x="661.5" y="653" width="117" height="4" fill="#FFFF99" stroke="#333" stroke-width="1" />
<line class="bi" x1="720.5" y1="591.5" x2="720.5" y2="653.5"/>
<line class="g" x1="663" y1="451.5" x2="778" y2="451.5"/>
<polyline fill="none" stroke="#333" stroke-width="3" points="699.5,508 699.5,513"/>
<polyline fill="none" stroke="#fff" stroke-width="1" points="699.5,508 699.5,513"/>
<polyline fill="none" stroke="#333" stroke-width="3" points="741.5,508 741.5,513"/>
<polyline fill="none" stroke="#fff" stroke-width="1" points="741.5,508 741.5,513"/>
<path d="M697.500 482.500L700.500 479.500H740.500L743.500 482.500V507L741.500 509.500H739.500L736.500 506.500H704.500L701.500 509.500H699.500L697.500 507Z" fill="#990000" stroke="#222"/>
<rect x="740" y="513" width="3" height="4" fill="#000" stroke="none" stroke-width="1" />
<polyline fill="none" stroke="#333" stroke-width="3" points="656,518.5 668,518.5"/>
<polyline fill="none" stroke="#fff" stroke-width="1" points="656,518.5 668,518.5"/>
<path d="M641.500 518H656.500V519L651.500 523.500V537L656.500 541V542H641.500L639.500 540V520Z" fill="#990000" stroke="#222" class="aa"/>
<path d="M785 518L791 511.500H797Q805 514 805.500 528" fill="none" stroke="#000" stroke-width="3" class="aa"/>
<path d="M785 518L791 511.500H797Q805 514 805.500 528" fill="none" stroke="#FFFF99" stroke-width="1.500" class="aa"/>
<path d="M789 518Q791 514.500 796 515.500Q802 518 802 534" fill="none" stroke="#333" stroke-width="3" class="aa"/>
<path d="M789 518Q791 514.500 796 515.500Q802 518 802 534" fill="none" stroke="#fff" stroke-width="1" class="aa"/>
<path d="M784 519H799.500V543H784L788.500 538V524Z" fill="#990000" stroke="#222" class="aa"/>
<polyline fill="none" stroke="#333" stroke-width="3" points="702.5,562.5 682,562.5"/>
<line class="aa" stroke-linecap="round" stroke="#333" stroke-width="3" x1="714" y1="551" x2="702.5" y2="562.5"/>
<polyline fill="none" stroke="#fff" stroke-width="1" points="702.5,562.5 682,562.5"/>
<line class="aa" stroke-linecap="round" stroke="#fff" stroke-width="1" x1="714" y1="551" x2="702.5" y2="562.5"/>
<rect x="626.5" y="554.5" width="56" height="17" fill="#9999CC" stroke="#333" stroke-width="1" rx="3" />
<rect x="636" y="555" width="4" height="16" fill="#990000" stroke="none" stroke-width="1" />
<rect x="644" y="555" width="4" height="16" fill="#009933" stroke="none" stroke-width="1" />
<rect x="652" y="555" width="4" height="16" fill="#990000" stroke="none" stroke-width="1" />
<polyline fill="none" stroke="#333" stroke-width="3" points="592,581.5 607,581.5"/>
<polyline fill="none" stroke="#333" stroke-width="3" points="622,566 628,566"/>
<line class="aa" stroke-linecap="round" stroke="#333" stroke-width="3" x1="607" y1="581.5" x2="622" y2="566"/>
<polyline fill="none" stroke="#fff" stroke-width="1" points="592,581.5 607,581.5"/>
<polyline fill="none" stroke="#fff" stroke-width="1" points="622,566 628,566"/>
<line class="aa" stroke-linecap="round" stroke="#fff" stroke-width="1" x1="607" y1="581.5" x2="622" y2="566"/>
<polyline fill="none" stroke="#333" stroke-width="3" points="620,584.5 624,584.5"/>
<line class="aa" stroke-linecap="round" stroke="#333" stroke-width="3" x1="592" y1="553" x2="620" y2="584.5"/>
<polyline fill="none" stroke="#fff" stroke-width="1" points="620,584.5 624,584.5"/>
<line class="aa" stroke-linecap="round" stroke="#fff" stroke-width="1" x1="592" y1="553" x2="620" y2="584.5"/>
<path d="M625 578.500H631L634 580H645L648 578.500H653.500Q656.500 578.500 656.500 584.500Q656.500 590.500 653.500 590.500H648L645 589H634L631 590.500H625Q622 590.500 622 584.500Q622 578.500 625 578.500Z" fill="#CC9966" stroke="#333"/>
<rect x="634" y="580" width="3" height="9" fill="#000" stroke="none" stroke-width="1" />
<rect x="644" y="580" width="3" height="9" fill="#993300" stroke="none" stroke-width="1" />
<polyline fill="none" stroke="#333" stroke-width="3" points="656,584.5 667,584.5"/>
<polyline fill="none" stroke="#fff" stroke-width="1" points="656,584.5 667,584.5"/>
<polyline fill="none" stroke="#000" stroke-width="4" points="639.5,577 639.5,592"/>
<polyline fill="none" stroke="#FF0000" stroke-width="2" points="639.5,577 639.5,592"/>
<polyline fill="none" stroke="#333" stroke-width="3" points="800.5,578 800.5,582"/>
<polyline fill="none" stroke="#333" stroke-width="3" points="797,584.5 773,584.5"/>
<line class="aa" stroke-linecap="round" stroke="#333" stroke-width="3" x1="800.5" y1="582" x2="797" y2="584.5"/>
<polyline fill="none" stroke="#fff" stroke-width="1" points="800.5,578 800.5,582"/>
<polyline fill="none" stroke="#fff" stroke-width="1" points="797,584.5 773,584.5"/>
<line class="aa" stroke-linecap="round" stroke="#fff" stroke-width="1" x1="800.5" y1="582" x2="797" y2="584.5"/>
<polyline fill="none" stroke="#222" stroke-width="4" points="787,559 787,606"/>
<polyline fill="none" stroke="#fff" stroke-width="2" points="787,559 787,606"/>
<rect x="794.5" y="545.5" width="12" height="33" rx="5" fill="#CC9966" stroke="#333"/>
<rect x="795.5" y="554" width="10" height="3" fill="#993300" stroke="none" stroke-width="1" />
<rect x="795.5" y="561" width="10" height="3" fill="#000" stroke="none" stroke-width="1" />
<rect x="795.5" y="565.5" width="10" height="3" fill="#000" stroke="none" stroke-width="1" />
<polyline fill="none" stroke="#222" stroke-width="4" points="786.5,652 786.5,656.5"/>
<polyline fill="none" stroke="#222" stroke-width="4" points="782.5,660.5 772,660.5"/>
<line class="aa" stroke-linecap="round" stroke="#222" stroke-width="4" x1="786.5" y1="656.5" x2="782.5" y2="660.5"/>
<polyline fill="none" stroke="#fff" stroke-width="2" points="786.5,652 786.5,656.5"/>
<polyline fill="none" stroke="#fff" stroke-width="2" points="782.5,660.5 772,660.5"/>
<line class="aa" stroke-linecap="round" stroke="#fff" stroke-width="2" x1="786.5" y1="656.5" x2="782.5" y2="660.5"/>
<rect x="779.5" y="606.5" width="13.5" height="46" fill="#999999" stroke="#333" stroke-width="1" rx="3" />
<polyline fill="none" stroke="#333" stroke-width="3" points="726.5,657 726.5,686"/>
<polyline fill="none" stroke="#333" stroke-width="3" points="749.5,710 749.5,718"/>
<line class="aa" stroke-linecap="round" stroke="#333" stroke-width="3" x1="726.5" y1="686" x2="749.5" y2="710"/>
<polyline fill="none" stroke="#fff" stroke-width="1" points="726.5,657 726.5,686"/>
<polyline fill="none" stroke="#fff" stroke-width="1" points="749.5,710 749.5,718"/>
<line class="aa" stroke-linecap="round" stroke="#fff" stroke-width="1" x1="726.5" y1="686" x2="749.5" y2="710"/>
<polyline fill="none" stroke="#333" stroke-width="3" points="749.5,751 749.5,789"/>
<line class="aa" stroke-linecap="round" stroke="#333" stroke-width="3" x1="749.5" y1="789" x2="757.5" y2="797"/>
<polyline fill="none" stroke="#fff" stroke-width="1" points="749.5,751 749.5,789"/>
<line class="aa" stroke-linecap="round" stroke="#fff" stroke-width="1" x1="749.5" y1="789" x2="757.5" y2="797"/>
<rect x="743.5" y="717.5" width="12" height="35" rx="5" fill="#CC9966" stroke="#333"/>
<rect x="744.5" y="729" width="10" height="3" fill="#ff0000" stroke="none" stroke-width="1" />
<rect x="744.5" y="734.5" width="10" height="3" fill="#000" stroke="none" stroke-width="1" />
<rect x="744.5" y="739.5" width="10" height="3" fill="#993300" stroke="none" stroke-width="1" />
<rect x="589.5" y="461.5" width="4" height="19" fill="#FFFF99" stroke="#333" stroke-width="1" />
<rect x="589.5" y="499.5" width="4" height="17" fill="#FFFF99" stroke="#333" stroke-width="1" />
<rect x="589.5" y="538.5" width="4" height="17" fill="#FFFF99" stroke="#333" stroke-width="1" />
<rect x="589.5" y="576.5" width="4" height="17" fill="#FFFF99" stroke="#333" stroke-width="1" />
<rect x="585.5" y="458.5" width="3" height="141" fill="#993300" stroke="#000" stroke-width="1" />
<rect x="604.5" y="480.5" width="5" height="23" fill="#999999" stroke="#333" stroke-width="1" />
<polyline fill="none" stroke="#333" stroke-width="3" points="600.5,466 607,466"/>
<polyline fill="none" stroke="#333" stroke-width="3" points="612.5,472 612.5,500"/>
<line class="aa" stroke-linecap="round" stroke="#333" stroke-width="3" x1="594" y1="469" x2="600.5" y2="466"/>
<line class="aa" stroke-linecap="round" stroke="#333" stroke-width="3" x1="607" y1="466" x2="612.5" y2="472"/>
<line class="aa" stroke-linecap="round" stroke="#333" stroke-width="3" x1="612.5" y1="500" x2="607" y2="508"/>
<line class="aa" stroke-linecap="round" stroke="#333" stroke-width="3" x1="607" y1="508" x2="600" y2="515"/>
<line class="aa" stroke-linecap="round" stroke="#333" stroke-width="3" x1="600" y1="515" x2="592" y2="517"/>
<polyline fill="none" stroke="#fff" stroke-width="1" points="600.5,466 607,466"/>
<polyline fill="none" stroke="#fff" stroke-width="1" points="612.5,472 612.5,500"/>
<line class="aa" stroke-linecap="round" stroke="#fff" stroke-width="1" x1="594" y1="469" x2="600.5" y2="466"/>
<line class="aa" stroke-linecap="round" stroke="#fff" stroke-width="1" x1="607" y1="466" x2="612.5" y2="472"/>
<line class="aa" stroke-linecap="round" stroke="#fff" stroke-width="1" x1="612.5" y1="500" x2="607" y2="508"/>
<line class="aa" stroke-linecap="round" stroke="#fff" stroke-width="1" x1="607" y1="508" x2="600" y2="515"/>
<line class="aa" stroke-linecap="round" stroke="#fff" stroke-width="1" x1="600" y1="515" x2="592" y2="517"/>
<polyline fill="none" stroke="#333" stroke-width="3" points="605,506 605,549"/>
<polyline fill="none" stroke="#fff" stroke-width="1" points="605,506 605,549"/>
<rect x="595.5" y="473.5" width="12" height="34.5" rx="5" fill="#CC9966" stroke="#333"/>
<rect x="596.5" y="485" width="10" height="3" fill="#993300" stroke="none" stroke-width="1" />
<rect x="596.5" y="490" width="10" height="3" fill="#990099" stroke="none" stroke-width="1" />
<rect x="596.5" y="495.5" width="10" height="3" fill="#ffff00" stroke="none" stroke-width="1" />
<line class="aa" stroke-linecap="round" stroke="#333" stroke-width="3" x1="592" y1="510" x2="580" y2="518"/>
<line class="aa" stroke-linecap="round" stroke="#333" stroke-width="3" x1="580" y1="518" x2="579.5" y2="521"/>
<line class="aa" stroke-linecap="round" stroke="#fff" stroke-width="1" x1="592" y1="510" x2="580" y2="518"/>
<line class="aa" stroke-linecap="round" stroke="#fff" stroke-width="1" x1="580" y1="518" x2="579.5" y2="521"/>
<line class="aa" stroke-linecap="round" stroke="#333" stroke-width="3" x1="579.5" y1="537" x2="580" y2="541"/>
<line class="aa" stroke-linecap="round" stroke="#333" stroke-width="3" x1="580" y1="541" x2="592" y2="546"/>
<line class="aa" stroke-linecap="round" stroke="#fff" stroke-width="1" x1="579.5" y1="537" x2="580" y2="541"/>
<line class="aa" stroke-linecap="round" stroke="#fff" stroke-width="1" x1="580" y1="541" x2="592" y2="546"/>
<rect x="575.5" y="520.5" width="8" height="17" fill="#FFCC66" stroke="#333" stroke-width="1" rx="1" />
<rect x="576" y="526" width="7" height="6" fill="#000" stroke="none" stroke-width="1" />
<line class="aa" stroke-linecap="round" stroke="#333" stroke-width="3" x1="592" y1="553" x2="580" y2="558"/>
<line class="aa" stroke-linecap="round" stroke="#fff" stroke-width="1" x1="592" y1="553" x2="580" y2="558"/>
<line class="aa" stroke-linecap="round" stroke="#333" stroke-width="3" x1="580" y1="578" x2="584" y2="588"/>
<line class="aa" stroke-linecap="round" stroke="#333" stroke-width="3" x1="584" y1="588" x2="592" y2="593"/>
<line class="aa" stroke-linecap="round" stroke="#fff" stroke-width="1" x1="580" y1="578" x2="584" y2="588"/>
<line class="aa" stroke-linecap="round" stroke="#fff" stroke-width="1" x1="584" y1="588" x2="592" y2="593"/>
<rect x="576.500" y="559.500" width="7" height="18" rx="2.500" fill="#99FFFF" stroke="#333"/>
<circle class="k" cx="594" cy="469" r="3.5"/>
<circle class="k" cx="592.5" cy="510" r="3.5"/>
<circle class="k" cx="592.5" cy="546" r="3.5"/>
<circle class="k" cx="592.5" cy="553" r="3.5"/>
<circle class="k" cx="592.5" cy="581" r="3.5"/>
<circle class="k" cx="592.5" cy="593" r="3.5"/>
<circle class="k" cx="605.5" cy="549.5" r="3.5"/>
<circle class="k" cx="660.5" cy="549.5" r="3.5"/>
<circle class="k" cx="714.5" cy="551" r="3.5"/>
<circle class="k" cx="668.5" cy="518.5" r="3.5"/>
<circle class="k" cx="772.5" cy="519" r="3.5"/>
<circle class="k" cx="667.5" cy="584" r="3.5"/>
<circle class="k" cx="772.5" cy="584" r="3.5"/>
<circle class="k" cx="773" cy="660.5" r="3.5"/>
<circle class="k" cx="779.5" cy="549.5" r="3.5"/>
<circle class="k" cx="790.5" cy="549.5" r="3.5"/>
<circle class="k" cx="787.5" cy="559" r="3.5"/>
<circle class="k" cx="803" cy="540" r="3.5"/>
<polygon fill="#999999" stroke="#000" points="665.5,812 661.5,816 642.5,861.5 650,892 793.5,892 801,861.5 782,816 778,812"/>
<polyline class="w" points="661.5,816 661.5,892"/>
<polyline class="w" points="660.5,821.5 646.5,862 651.5,879.5"/>
<polyline class="w" points="653,843.5 651,891.5"/>
<polyline class="w" points="653.5,843.5 658.5,891.5"/>
<polyline class="w" points="782,816 782,892"/>
<polyline class="w" points="783,821.5 797,862 792,879.5"/>
<polyline class="w" points="790.5,843.5 792.5,891.5"/>
<polyline class="w" points="790,843.5 785,891.5"/>
<rect x="681.5" y="781.5" width="4" height="32" fill="#FFFF99" stroke="#000" stroke-width="1" rx="1.5" />
<rect x="719.5" y="781.5" width="4" height="32" fill="#FFFF99" stroke="#000" stroke-width="1" rx="1.5" />
<rect x="757.5" y="779.5" width="4" height="32" fill="#FFFF99" stroke="#000" stroke-width="1" rx="1.5" />
<polyline fill="none" stroke="#000" stroke-width="4" points="716,803 716,890"/>
<line class="aa" stroke-linecap="round" stroke="#000" stroke-width="4" x1="720" y1="799" x2="716" y2="803"/>
<polyline fill="none" stroke="#FFFF99" stroke-width="2" points="716,803 716,890"/>
<line class="aa" stroke-linecap="round" stroke="#FFFF99" stroke-width="2" x1="720" y1="799" x2="716" y2="803"/>
<polyline fill="none" stroke="#000" stroke-width="4" points="733,823 733,890"/>
<line class="aa" stroke-linecap="round" stroke="#000" stroke-width="4" x1="758" y1="797" x2="733" y2="823"/>
<polyline fill="none" stroke="#FFFF99" stroke-width="2" points="733,823 733,890"/>
<line class="aa" stroke-linecap="round" stroke="#FFFF99" stroke-width="2" x1="758" y1="797" x2="733" y2="823"/>
<circle class="k" cx="683.5" cy="780" r="3"/>
<circle class="k" cx="721.5" cy="779.5" r="3"/>
<text x="681.5" y="869" font-size="11" text-anchor="start" >S1</text>
<polygon class="k" points="648.500,899 794.500,899 792,901 651,901"/>
<polygon fill="#777" stroke="none" points="651,901 792,901 789.500,903.500 653.500,903.500"/>
<line class="g" x1="653.5" y1="903.5" x2="789.5" y2="903.5"/>
<polyline class="w" points="663.5,904.5 676.5,929.5 680,929 712,913"/>
<rect x="738.5" y="904.5" width="41.5" height="2.5" fill="#fff" stroke="#333" stroke-width="1" />
<path d="M710.500 891.500V890.500Q710.500 889.500 712 889.500H737Q738.500 889.500 738.500 890.500V891.500Z" fill="#f00" stroke="#900"/>
<path d="M712.500 899H737V911Q737 921 724.750 921Q712.500 921 712.500 911Z" fill="#f00" stroke="#c00" class="aa"/>
<text x="608.5" y="64" font-size="12" text-anchor="middle" >J1</text>
<text x="608.5" y="76" font-size="12" text-anchor="middle" >XMTR</text>
<text x="823.5" y="64" font-size="12" text-anchor="middle" >J2</text>
<text x="823.5" y="76" font-size="12" text-anchor="middle" >ANT</text>
<text x="731" y="98" font-size="12" text-anchor="start" >F1</text>
<text x="589.5" y="216" font-size="12" text-anchor="start" >C2</text>
<text x="758.5" y="219" font-size="12" text-anchor="start" >C12</text>
<text x="750.5" y="295" font-size="12" text-anchor="start" >RLY1</text>
<text x="677.5" y="292" font-size="12" text-anchor="start" >C4</text>
<text x="726.5" y="314" font-size="12" text-anchor="start" >D2</text>
<text x="802.5" y="322" font-size="12" text-anchor="start" >C11</text>
<text x="826.5" y="351" font-size="12" text-anchor="start" >C1</text>
<text x="828.5" y="376" font-size="12" text-anchor="start" >D1</text>
<text x="566.5" y="357" font-size="12" text-anchor="start" >C3</text>
<text x="615.5" y="342" font-size="12" text-anchor="start" >FB1</text>
<text x="725.5" y="401" font-size="12" text-anchor="start" >b</text>
<text x="784.5" y="457" font-size="12" text-anchor="start" >T2</text>
<text x="726.5" y="477" font-size="12" text-anchor="start" >C10</text>
<text x="770.5" y="511" font-size="12" text-anchor="start" >c</text>
<text x="784.5" y="507" font-size="12" text-anchor="start" >C9</text>
<text x="643" y="512" font-size="12" text-anchor="start" >C8</text>
<text x="665" y="511" font-size="12" text-anchor="start" >a</text>
<text x="614.5" y="493" font-size="12" text-anchor="start" >Q1</text>
<text transform="translate(627 504) rotate(-90)" font-size="12" text-anchor="middle">R1</text>
<text transform="translate(576 514) rotate(-90)" font-size="12" text-anchor="middle">C5</text>
<text transform="translate(576 556) rotate(-90)" font-size="12" text-anchor="middle">C6</text>
<text x="667.5" y="544" font-size="12" text-anchor="start" >Q2</text>
<text x="757.5" y="544" font-size="12" text-anchor="start" >Q3</text>
<text x="661.5" y="570" font-size="12" text-anchor="start" >R5</text>
<text x="642.5" y="608" font-size="12" text-anchor="start" >R3</text>
<text x="654.5" y="596" font-size="12" text-anchor="start" >c</text>
<text x="813.5" y="568" font-size="12" text-anchor="start" >R4</text>
<text x="729.5" y="627" font-size="12" text-anchor="start" >T1</text>
<text x="777.5" y="594" font-size="12" text-anchor="start" >a</text>
<text x="769" y="651" font-size="12" text-anchor="start" >b</text>
<text transform="translate(808 628) rotate(-90)" font-size="12" text-anchor="middle">FB1</text>
<text x="724.5" y="739" font-size="12" text-anchor="start" >R2</text>
<text x="710.5" y="933.5" font-size="11" text-anchor="start" >LED1</text>
<text x="630.5" y="928.5" font-size="14" text-anchor="start" >OFF</text>
<text x="787.5" y="928.5" font-size="14" text-anchor="start" >ON</text>
</g>
<g id="misc">
<text x="21.500" y="960.500" font-size="16" font-weight="bold">NOTE:</text>
<text x="43" y="978" font-size="14.650" font-weight="bold">1.</text>
<text x="63" y="978" font-size="14.650">The wire colors used in this diagram will vary from the</text>
<text x="63" y="995" font-size="14.650">amp. Also the wire color will vary from amp to amp.</text>
<text x="43" y="1012" font-size="14.650" font-weight="bold">2.</text>
<text x="62" y="1012" font-size="14.650">The component type will vary from amp to amp see text for</text>
<text x="62" y="1029" font-size="14.650">more information.</text>
<rect x="533.5" y="996.5" width="355" height="70.5" fill="#fff" stroke="#000" stroke-width="1" />
<text x="538.500" y="1018" font-size="19.300" stroke="#000" stroke-width=".3">Texas Star Skeleton 150 Amp</text>
<text x="542" y="1042" font-size="12">Rev. # 1.0</text>
<text x="541" y="1055.500" font-size="13.100">Copyright © 2007, CBTricks.com All Rights Reserved</text>
<rect x="234.5" y="1064.5" width="19" height="4" fill="#FFFF99" stroke="#333" stroke-width="1" rx="1.5" />
<rect x="272.5" y="1064.5" width="19" height="4" fill="#FFFF99" stroke="#333" stroke-width="1" rx="1.5" />
<rect x="311" y="1064.5" width="19" height="4" fill="#FFFF99" stroke="#333" stroke-width="1" rx="1.5" />
<rect x="349" y="1064.5" width="19" height="4" fill="#FFFF99" stroke="#333" stroke-width="1" rx="1.5" />
<rect x="230.5" y="1060.5" width="142" height="3" fill="#993300" stroke="#000" stroke-width="1" rx="1.5" />
<path d="M654.500 1091Q654.500 1081.500 664 1081.500Q673.500 1081.500 673.500 1091L669.500 1109Q668 1113.500 664 1113.500Q660 1113.500 658.500 1109Z" fill="#ccc" stroke="#333" shape-rendering="auto"/>
<ellipse cx="664" cy="1090" rx="8" ry="7" fill="#ccc" stroke="#333" shape-rendering="auto"/>
<path d="M656.500 1088.500H671.500M656.500 1091.500H671.500" class="g"/>
</g>
</svg>
</body></html>
